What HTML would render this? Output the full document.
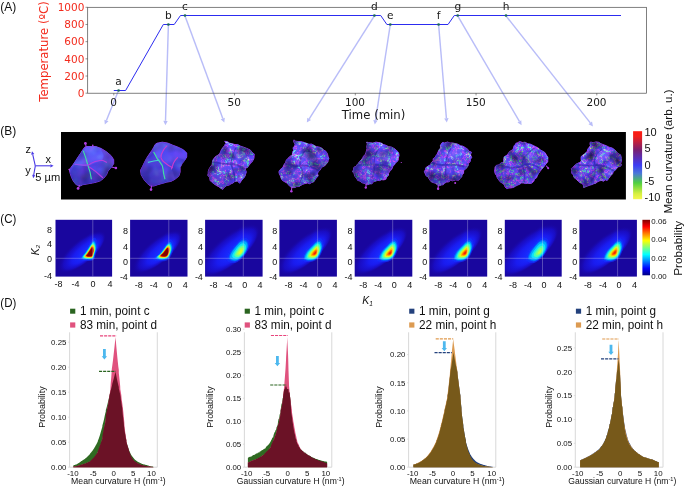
<!DOCTYPE html><html><head><meta charset="utf-8"><title>Figure</title>
<style>html,body{margin:0;padding:0;background:#fff;overflow:hidden}svg{display:block;will-change:transform}</style></head><body>
<svg width="685" height="486" viewBox="0 0 685 486">
<rect width="685" height="486" fill="#fff"/>
<text x="0.30" y="11.30" font-family="'Liberation Sans', sans-serif" font-size="12" fill="#111" textLength="16.0" lengthAdjust="spacingAndGlyphs">(A)</text>
<line x1="118.6" y1="90.2" x2="106.4" y2="120.5" stroke="#b9bdf8" stroke-width="1.45"/>
<polygon points="104.8,124.6 104.4,119.7 108.5,121.3" fill="#b9bdf8"/>
<line x1="168.4" y1="24.5" x2="165.5" y2="120.8" stroke="#b9bdf8" stroke-width="1.45"/>
<polygon points="165.4,125.2 163.3,120.7 167.7,120.9" fill="#b9bdf8"/>
<line x1="185.0" y1="15.9" x2="222.8" y2="118.5" stroke="#b9bdf8" stroke-width="1.45"/>
<polygon points="224.3,122.6 220.7,119.2 224.8,117.7" fill="#b9bdf8"/>
<line x1="374.4" y1="15.9" x2="309.2" y2="118.9" stroke="#b9bdf8" stroke-width="1.45"/>
<polygon points="306.8,122.6 307.3,117.7 311.0,120.1" fill="#b9bdf8"/>
<line x1="390.3" y1="24.5" x2="375.5" y2="120.3" stroke="#b9bdf8" stroke-width="1.45"/>
<polygon points="374.8,124.6 373.3,119.9 377.6,120.6" fill="#b9bdf8"/>
<line x1="438.6" y1="24.5" x2="446.4" y2="118.2" stroke="#b9bdf8" stroke-width="1.45"/>
<polygon points="446.8,122.6 444.2,118.4 448.6,118.0" fill="#b9bdf8"/>
<line x1="457.7" y1="15.9" x2="519.4" y2="121.4" stroke="#b9bdf8" stroke-width="1.45"/>
<polygon points="521.6,125.2 517.5,122.5 521.3,120.3" fill="#b9bdf8"/>
<line x1="506.0" y1="15.9" x2="590.3" y2="122.9" stroke="#b9bdf8" stroke-width="1.45"/>
<polygon points="593.0,126.4 588.5,124.3 592.0,121.6" fill="#b9bdf8"/>
<rect x="87.7" y="7.3" width="558.7" height="85.9" fill="none" stroke="#4a4a4a" stroke-width="0.7"/>
<line x1="85.5" y1="93.20" x2="87.7" y2="93.20" stroke="#4a4a4a" stroke-width="0.6"/>
<text x="84.40" y="97.00" font-family="'DejaVu Sans', 'Liberation Sans', sans-serif" font-size="10.5" fill="#f32a1c" text-anchor="end">0</text>
<line x1="85.5" y1="76.02" x2="87.7" y2="76.02" stroke="#4a4a4a" stroke-width="0.6"/>
<text x="84.40" y="79.82" font-family="'DejaVu Sans', 'Liberation Sans', sans-serif" font-size="10.5" fill="#f32a1c" text-anchor="end">200</text>
<line x1="85.5" y1="58.84" x2="87.7" y2="58.84" stroke="#4a4a4a" stroke-width="0.6"/>
<text x="84.40" y="62.64" font-family="'DejaVu Sans', 'Liberation Sans', sans-serif" font-size="10.5" fill="#f32a1c" text-anchor="end">400</text>
<line x1="85.5" y1="41.66" x2="87.7" y2="41.66" stroke="#4a4a4a" stroke-width="0.6"/>
<text x="84.40" y="45.46" font-family="'DejaVu Sans', 'Liberation Sans', sans-serif" font-size="10.5" fill="#f32a1c" text-anchor="end">600</text>
<line x1="85.5" y1="24.48" x2="87.7" y2="24.48" stroke="#4a4a4a" stroke-width="0.6"/>
<text x="84.40" y="28.28" font-family="'DejaVu Sans', 'Liberation Sans', sans-serif" font-size="10.5" fill="#f32a1c" text-anchor="end">800</text>
<line x1="85.5" y1="7.30" x2="87.7" y2="7.30" stroke="#4a4a4a" stroke-width="0.6"/>
<text x="84.40" y="11.10" font-family="'DejaVu Sans', 'Liberation Sans', sans-serif" font-size="10.5" fill="#f32a1c" text-anchor="end">1000</text>
<line x1="113.80" y1="93.2" x2="113.80" y2="95.4" stroke="#4a4a4a" stroke-width="0.6"/>
<text x="113.50" y="105.80" font-family="'DejaVu Sans', 'Liberation Sans', sans-serif" font-size="10.5" fill="#1a1a1a" text-anchor="middle">0</text>
<line x1="234.55" y1="93.2" x2="234.55" y2="95.4" stroke="#4a4a4a" stroke-width="0.6"/>
<text x="234.25" y="105.80" font-family="'DejaVu Sans', 'Liberation Sans', sans-serif" font-size="10.5" fill="#1a1a1a" text-anchor="middle">50</text>
<line x1="355.30" y1="93.2" x2="355.30" y2="95.4" stroke="#4a4a4a" stroke-width="0.6"/>
<text x="355.00" y="105.80" font-family="'DejaVu Sans', 'Liberation Sans', sans-serif" font-size="10.5" fill="#1a1a1a" text-anchor="middle">100</text>
<line x1="476.05" y1="93.2" x2="476.05" y2="95.4" stroke="#4a4a4a" stroke-width="0.6"/>
<text x="475.75" y="105.80" font-family="'DejaVu Sans', 'Liberation Sans', sans-serif" font-size="10.5" fill="#1a1a1a" text-anchor="middle">150</text>
<line x1="596.80" y1="93.2" x2="596.80" y2="95.4" stroke="#4a4a4a" stroke-width="0.6"/>
<text x="596.50" y="105.80" font-family="'DejaVu Sans', 'Liberation Sans', sans-serif" font-size="10.5" fill="#1a1a1a" text-anchor="middle">200</text>
<text x="47.70" y="51.50" font-family="'DejaVu Sans', 'Liberation Sans', sans-serif" font-size="11.7" fill="#f32a1c" text-anchor="middle" textLength="100.5" lengthAdjust="spacingAndGlyphs" transform="rotate(-90 47.70 51.50)">Temperature (ºC)</text>
<text x="373.60" y="118.60" font-family="'DejaVu Sans', 'Liberation Sans', sans-serif" font-size="11.7" fill="#1a1a1a" text-anchor="middle" textLength="63.5" lengthAdjust="spacingAndGlyphs">Time (min)</text>
<polyline fill="none" stroke="#2c2cf0" stroke-width="1" stroke-linejoin="round" points="113.8,90.5 125.6,90.5 163.3,24.5 174.2,24.5 180.5,15.5 380.7,15.5 386.9,24.5 448.0,24.5 454.3,15.5 621.0,15.5"/>
<circle cx="118.6" cy="90.5" r="1.35" fill="#1d6a5a"/>
<text x="118.40" y="85.20" font-family="'DejaVu Sans', 'Liberation Sans', sans-serif" font-size="10.6" fill="#1a1a1a" text-anchor="middle">a</text>
<circle cx="168.4" cy="24.5" r="1.35" fill="#1d6a5a"/>
<text x="168.30" y="18.90" font-family="'DejaVu Sans', 'Liberation Sans', sans-serif" font-size="10.6" fill="#1a1a1a" text-anchor="middle">b</text>
<circle cx="185.0" cy="15.5" r="1.35" fill="#1d6a5a"/>
<text x="185.00" y="10.20" font-family="'DejaVu Sans', 'Liberation Sans', sans-serif" font-size="10.6" fill="#1a1a1a" text-anchor="middle">c</text>
<circle cx="374.4" cy="15.5" r="1.35" fill="#1d6a5a"/>
<text x="374.40" y="10.20" font-family="'DejaVu Sans', 'Liberation Sans', sans-serif" font-size="10.6" fill="#1a1a1a" text-anchor="middle">d</text>
<circle cx="390.3" cy="24.5" r="1.35" fill="#1d6a5a"/>
<text x="390.20" y="18.90" font-family="'DejaVu Sans', 'Liberation Sans', sans-serif" font-size="10.6" fill="#1a1a1a" text-anchor="middle">e</text>
<circle cx="438.6" cy="24.5" r="1.35" fill="#1d6a5a"/>
<text x="438.50" y="18.90" font-family="'DejaVu Sans', 'Liberation Sans', sans-serif" font-size="10.6" fill="#1a1a1a" text-anchor="middle">f</text>
<circle cx="457.7" cy="15.5" r="1.35" fill="#1d6a5a"/>
<text x="457.80" y="10.20" font-family="'DejaVu Sans', 'Liberation Sans', sans-serif" font-size="10.6" fill="#1a1a1a" text-anchor="middle">g</text>
<circle cx="506.0" cy="15.5" r="1.35" fill="#1d6a5a"/>
<text x="506.00" y="10.20" font-family="'DejaVu Sans', 'Liberation Sans', sans-serif" font-size="10.6" fill="#1a1a1a" text-anchor="middle">h</text>
<text x="0.30" y="134.80" font-family="'Liberation Sans', sans-serif" font-size="12" fill="#111" textLength="16.0" lengthAdjust="spacingAndGlyphs">(B)</text>
<rect x="61.0" y="132.0" width="564.9" height="67.5" fill="#000"/>
<line x1="35.3" y1="165.8" x2="32.7" y2="154.3" stroke="#4a3ae6" stroke-width="1.1"/>
<polygon points="32.0,151.2 34.3,154.0 31.1,154.7" fill="#4a3ae6"/>
<line x1="35.3" y1="165.8" x2="50.4" y2="165.8" stroke="#4a3ae6" stroke-width="1.1"/>
<polygon points="53.6,165.8 50.4,167.4 50.4,164.2" fill="#4a3ae6"/>
<line x1="35.3" y1="165.8" x2="33.7" y2="175.0" stroke="#4a3ae6" stroke-width="1.1"/>
<polygon points="33.2,178.2 32.2,174.8 35.3,175.3" fill="#4a3ae6"/>
<text x="28.30" y="153.00" font-family="'Liberation Sans', sans-serif" font-size="11" fill="#111" text-anchor="middle">z</text>
<text x="48.30" y="162.60" font-family="'Liberation Sans', sans-serif" font-size="11" fill="#111" text-anchor="middle">x</text>
<text x="28.00" y="174.20" font-family="'Liberation Sans', sans-serif" font-size="11" fill="#111" text-anchor="middle">y</text>
<text x="35.20" y="180.60" font-family="'Liberation Sans', sans-serif" font-size="11.5" fill="#111" textLength="25.0" lengthAdjust="spacingAndGlyphs">5 µm</text>
<defs>
<filter id="texS" x="0" y="0" width="1" height="1" color-interpolation-filters="sRGB"><feTurbulence type="fractalNoise" baseFrequency="0.10" numOctaves="2" seed="5"/><feColorMatrix type="matrix" values="1 0 0 0 0  0 1 0 0 0  0 0 1 0 0  0 0 0 0 1"/><feComponentTransfer result="c1"><feFuncR type="table" tableValues="0.24 0.28 0.34 0.5 0.62"/><feFuncG type="table" tableValues="0.2 0.24 0.29 0.42 0.6"/><feFuncB type="table" tableValues="0.72 0.84 0.95 0.97 0.98"/></feComponentTransfer><feTurbulence type="fractalNoise" baseFrequency="0.06" numOctaves="2" seed="2"/><feColorMatrix type="matrix" values="1.6 0 0 0 -0.05  1.6 0 0 0 -0.05  1.6 0 0 0 -0.05  0 0 0 0 1" result="l1"/><feComposite in="c1" in2="l1" operator="arithmetic" k1="1" k2="0.22" k3="0" k4="0"/><feComposite in2="SourceGraphic" operator="in"/></filter>
<filter id="texR" x="0" y="0" width="1" height="1" color-interpolation-filters="sRGB"><feTurbulence type="fractalNoise" baseFrequency="0.24" numOctaves="2" seed="11"/><feColorMatrix type="matrix" values="1 0 0 0 0  0 1 0 0 0  0 0 1 0 0  0 0 0 0 1"/><feComponentTransfer><feFuncR type="table" tableValues="0.26 0.26 0.26 0.28 0.30 0.32 0.33 0.34 0.35 0.36 0.38 0.50 0.74 0.54 0.42 0.43 0.45 0.45 0.45 0.45 0.45"/><feFuncG type="table" tableValues="0.18 0.18 0.18 0.2 0.22 0.24 0.25 0.26 0.27 0.28 0.29 0.31 0.46 0.82 0.48 0.33 0.32 0.32 0.32 0.32 0.32"/><feFuncB type="table" tableValues="0.55 0.55 0.55 0.62 0.72 0.8 0.86 0.9 0.93 0.95 0.96 0.96 0.96 0.96 0.96 0.96 0.96 0.96 0.96 0.96 0.96"/></feComponentTransfer><feColorMatrix type="matrix" values="1 0 0 0 0  0 1 0 0 0  0 -0.35 1 0 0.105  0 0 0 0 1" result="c1"/><feTurbulence type="fractalNoise" baseFrequency="0.075" numOctaves="2" seed="3"/><feColorMatrix type="matrix" values="1.8 0 0 0 -0.15  1.8 0 0 0 -0.15  1.8 0 0 0 -0.15  0 0 0 0 1" result="l1"/><feComposite in="c1" in2="l1" operator="arithmetic" k1="1" k2="0.22" k3="0" k4="0"/><feComposite in2="SourceGraphic" operator="in"/></filter>
<filter id="texR2" x="0" y="0" width="1" height="1" color-interpolation-filters="sRGB"><feTurbulence type="fractalNoise" baseFrequency="0.30" numOctaves="2" seed="23"/><feColorMatrix type="matrix" values="1 0 0 0 0  0 1 0 0 0  0 0 1 0 0  0 0 0 0 1"/><feComponentTransfer><feFuncR type="table" tableValues="0.26 0.26 0.26 0.28 0.30 0.32 0.33 0.34 0.35 0.36 0.38 0.50 0.74 0.54 0.42 0.43 0.45 0.45 0.45 0.45 0.45"/><feFuncG type="table" tableValues="0.18 0.18 0.18 0.2 0.22 0.24 0.25 0.26 0.27 0.28 0.29 0.31 0.46 0.82 0.48 0.33 0.32 0.32 0.32 0.32 0.32"/><feFuncB type="table" tableValues="0.55 0.55 0.55 0.62 0.72 0.8 0.86 0.9 0.93 0.95 0.96 0.96 0.96 0.96 0.96 0.96 0.96 0.96 0.96 0.96 0.96"/></feComponentTransfer><feColorMatrix type="matrix" values="1 0 0 0 0  0 1 0 0 0  0 -0.7 1 0 0.210  0 0 0 0 1" result="c1"/><feTurbulence type="fractalNoise" baseFrequency="0.085" numOctaves="2" seed="8"/><feColorMatrix type="matrix" values="1.8 0 0 0 -0.15  1.8 0 0 0 -0.15  1.8 0 0 0 -0.15  0 0 0 0 1" result="l1"/><feComposite in="c1" in2="l1" operator="arithmetic" k1="1" k2="0.22" k3="0" k4="0"/><feComposite in2="SourceGraphic" operator="in"/></filter>
</defs>
<defs><filter id="blurv" x="-0.2" y="-0.2" width="1.4" height="1.4"><feGaussianBlur stdDeviation="0.7"/></filter><linearGradient id="shade" x1="0.75" y1="0.1" x2="0.3" y2="1"><stop offset="0" stop-color="#0a0040" stop-opacity="0"/><stop offset="0.55" stop-color="#0a0040" stop-opacity="0.05"/><stop offset="1" stop-color="#0a0040" stop-opacity="0.26"/></linearGradient>
<clipPath id="pc0"><polygon points="86.7,146.5 91.3,146.5 95.9,146.5 101.2,148.5 106.5,151.8 111.1,155.7 113.7,159.7 113.7,163.6 111.7,166.9 109.7,168.9 107.8,171.5 106.5,174.8 103.8,178.1 100.5,180.7 96.6,182.1 92.6,183.0 88.0,183.8 82.8,184.7 80.1,186.0 76.2,184.7 73.5,181.4 71.6,177.5 70.2,173.5 69.3,169.6 70.9,167.6 72.9,164.9 75.5,161.0 78.1,157.0 80.8,153.1 82.8,149.8 84.7,147.2"/></clipPath>
<clipPath id="pc1"><polygon points="157.0,143.2 162.3,142.2 167.6,143.0 172.8,145.2 178.1,147.2 183.4,149.8 186.7,153.1 186.7,157.0 184.7,160.3 182.1,163.6 180.1,167.6 180.1,172.2 178.8,176.1 174.8,179.4 170.9,181.4 166.9,182.1 162.3,183.4 157.7,184.7 153.8,186.0 150.5,186.0 147.2,183.4 143.9,179.4 141.2,174.8 140.6,170.2 142.6,166.3 144.5,162.3 146.5,158.4 149.1,154.4 151.8,150.5 153.8,147.2 155.1,144.5"/></clipPath>
<clipPath id="pc2"><polygon points="224.7,141.3 227.5,141.7 229.8,143.3 232.3,143.7 235.0,144.6 237.7,144.5 240.2,146.0 242.8,146.9 245.8,148.0 248.1,149.0 250.4,150.1 252.0,152.5 254.2,153.9 254.1,156.1 254.0,158.1 253.0,160.3 251.7,162.4 250.2,163.8 248.9,165.4 247.5,167.4 245.2,168.4 245.7,170.2 246.3,172.1 245.6,174.2 245.2,175.8 243.8,178.0 242.2,179.5 240.9,181.5 239.6,183.3 238.4,181.9 237.3,181.0 234.8,181.5 232.9,183.1 231.0,183.8 229.1,185.1 226.9,185.4 224.9,186.9 223.6,187.9 222.8,189.4 220.4,188.0 218.9,186.7 216.4,185.5 214.9,184.4 212.1,182.4 210.1,180.4 209.7,177.5 207.8,175.3 208.2,173.5 208.3,171.2 208.8,169.5 210.1,167.3 211.1,165.9 212.2,164.3 212.4,162.2 212.8,160.2 214.1,158.3 215.4,156.7 217.7,155.3 219.6,154.0 220.6,151.7 221.5,149.5 222.8,147.7 224.6,145.6 225.0,144.5 226.0,143.5 225.3,142.2"/></clipPath>
<clipPath id="pc3"><polygon points="293.9,139.9 295.6,141.2 298.2,141.6 300.7,141.6 303.4,142.2 306.0,143.1 309.0,144.3 311.3,144.0 313.4,144.9 316.3,146.7 318.6,146.9 321.7,148.0 323.3,149.8 326.0,151.4 327.5,154.0 328.0,156.2 328.9,158.7 328.2,160.3 327.9,162.1 326.2,164.1 324.5,166.0 322.6,166.8 321.1,168.0 320.0,170.1 318.1,172.0 317.5,173.7 318.2,176.1 316.2,177.9 314.9,180.1 313.8,181.8 311.7,182.5 309.6,183.7 307.6,183.0 304.8,183.6 302.8,184.3 300.7,185.4 299.2,186.5 296.7,186.6 295.0,187.5 293.0,187.6 291.4,187.4 289.6,186.1 288.4,184.6 286.4,182.7 283.8,181.3 282.0,179.9 281.0,177.9 280.0,175.1 279.0,172.9 279.1,171.0 280.1,169.7 282.0,168.1 283.4,166.3 284.3,164.2 285.6,162.5 286.3,160.2 287.7,158.7 289.2,157.1 291.3,155.5 292.4,154.4 292.5,152.3 293.6,150.2 293.0,147.9 294.6,146.0 295.1,144.1 293.8,142.0"/></clipPath>
<clipPath id="pc4"><polygon points="366.8,142.0 368.3,142.7 370.1,142.8 373.0,143.1 375.9,142.1 378.3,142.5 381.3,143.1 383.5,144.6 386.0,145.3 388.6,146.7 391.5,147.1 393.8,148.3 396.1,149.9 397.5,151.4 398.7,153.1 399.1,155.4 398.4,157.8 398.3,160.0 396.8,162.0 395.3,163.0 394.5,164.8 392.9,166.1 392.0,168.7 391.2,170.1 389.8,171.1 388.5,173.4 388.4,175.5 386.6,177.0 385.9,179.3 383.7,179.9 381.6,179.7 379.6,180.6 377.3,180.4 375.6,181.2 373.3,181.8 372.0,183.8 370.0,183.8 367.8,184.7 365.9,184.2 363.9,183.2 361.8,182.7 360.0,181.1 357.7,180.4 356.5,177.9 354.9,176.5 354.1,173.6 352.6,171.5 353.6,169.7 354.0,167.1 356.0,166.8 356.9,164.9 358.4,163.3 359.4,161.8 361.3,159.8 362.8,157.8 363.6,155.9 365.2,154.8 366.0,152.5 366.7,150.0 367.0,148.6 366.8,146.2 367.1,145.1 367.4,143.5 366.6,143.0"/></clipPath>
<clipPath id="pc5"><polygon points="442.4,142.5 444.7,142.9 447.7,142.0 449.9,143.1 452.4,142.9 455.3,143.6 458.0,144.2 460.4,145.7 463.0,146.2 465.5,147.7 467.6,149.1 468.9,151.2 471.4,152.1 470.5,154.8 471.7,157.4 470.5,159.2 470.3,161.5 468.4,163.3 468.2,165.7 466.9,167.6 465.4,169.2 463.6,170.6 463.6,173.3 462.1,174.7 461.7,176.8 460.1,178.4 458.7,180.2 455.5,179.9 452.6,180.8 450.5,180.3 448.9,181.8 446.5,182.1 444.3,183.3 443.2,184.7 441.2,185.0 439.3,185.7 437.4,185.0 435.7,183.2 433.9,182.8 431.0,181.6 429.2,179.0 428.3,177.1 426.0,175.7 425.1,173.5 424.3,171.8 425.4,169.7 425.8,167.7 428.1,166.1 430.7,164.7 431.2,162.7 433.2,160.9 433.2,158.7 435.1,157.4 436.1,155.4 437.1,154.2 438.2,151.7 439.2,149.4 440.6,148.0 440.4,145.5 441.1,144.2"/></clipPath>
<clipPath id="pc6"><polygon points="517.2,143.0 519.6,141.6 522.7,142.5 525.1,142.2 527.8,143.8 530.3,144.1 533.3,145.5 535.5,146.6 538.2,148.0 540.2,149.8 542.5,151.1 545.1,152.7 546.4,155.1 547.9,157.2 547.8,160.0 547.7,161.8 546.5,163.2 544.6,165.7 542.9,167.9 541.4,169.6 539.9,171.6 538.6,173.4 537.4,175.4 536.6,177.8 534.5,179.1 533.8,181.3 531.9,183.1 530.2,183.5 527.8,183.2 525.8,183.6 523.9,183.1 521.5,182.9 520.0,184.0 517.7,185.1 515.6,186.1 513.6,187.4 511.1,187.9 508.8,188.0 506.9,188.8 505.0,186.9 504.6,184.9 502.5,183.3 500.1,181.7 498.9,180.1 497.4,178.1 496.6,175.7 495.3,173.8 494.5,171.3 494.9,169.1 495.1,166.9 496.3,165.4 498.8,165.0 500.6,163.2 502.4,162.6 503.6,161.3 503.8,158.9 504.1,156.8 506.1,155.7 507.7,154.4 509.0,152.3 510.9,150.7 513.0,149.6 513.7,147.0 514.3,145.5 515.8,144.0 515.9,143.2"/></clipPath>
<clipPath id="pc7"><polygon points="590.5,142.0 593.3,142.7 596.1,141.9 598.6,142.3 600.9,143.7 603.7,144.8 606.3,145.7 609.0,147.2 612.1,148.0 614.2,149.4 616.1,151.2 617.9,153.6 620.5,154.8 621.1,157.0 621.2,158.7 621.3,161.3 620.7,163.4 621.4,164.6 620.9,165.9 619.5,166.6 617.8,166.8 616.6,168.8 614.8,170.5 613.3,171.5 612.6,173.9 611.1,175.0 610.2,176.5 608.7,178.4 607.2,180.4 605.1,179.8 603.5,181.2 601.2,180.4 599.4,181.0 597.6,181.7 596.2,183.1 593.9,183.7 591.8,184.6 589.7,185.2 587.5,186.0 585.5,186.8 583.6,187.5 583.4,185.4 582.5,183.5 580.1,182.8 578.4,181.4 576.3,179.3 574.0,177.4 573.4,174.9 571.8,173.2 571.9,170.4 571.3,168.6 572.7,167.4 574.0,166.0 575.5,164.5 577.4,163.5 579.4,162.6 581.3,161.2 581.0,159.0 581.1,156.6 582.7,155.2 584.5,153.9 586.0,152.6 587.2,151.5 587.9,148.9 589.0,147.6 590.4,145.7 590.0,143.9 590.1,142.8"/></clipPath>
</defs>
<polygon points="86.7,146.5 91.3,146.5 95.9,146.5 101.2,148.5 106.5,151.8 111.1,155.7 113.7,159.7 113.7,163.6 111.7,166.9 109.7,168.9 107.8,171.5 106.5,174.8 103.8,178.1 100.5,180.7 96.6,182.1 92.6,183.0 88.0,183.8 82.8,184.7 80.1,186.0 76.2,184.7 73.5,181.4 71.6,177.5 70.2,173.5 69.3,169.6 70.9,167.6 72.9,164.9 75.5,161.0 78.1,157.0 80.8,153.1 82.8,149.8 84.7,147.2" fill="#5244e8" stroke="#9038e0" stroke-width="1.0" stroke-linejoin="round"/>
<g clip-path="url(#pc0)">
<polygon points="88.7,166.3 83.4,151.1 86.7,146.5 95.9,146.5 101.2,148.5 104.0,156.0 102.5,160.3" fill="#6668fb" stroke="#6668fb" stroke-width="0.6"/>
<polygon points="101.2,148.5 106.5,151.8 111.1,155.7 113.7,159.7 113.7,163.6 111.7,166.9 106.5,162.3 102.5,160.3 104.0,156.0" fill="#6c3ccc" stroke="#6c3ccc" stroke-width="0.6"/>
<polygon points="88.7,166.3 102.5,160.3 106.5,162.3 111.7,166.9 107.8,171.5 106.5,174.8 102.5,177.5" fill="#524aec" stroke="#524aec" stroke-width="0.6"/>
<polygon points="88.7,166.3 102.5,177.5 100.5,180.7 92.6,183.0 91.3,178.8" fill="#3a30b8" stroke="#3a30b8" stroke-width="0.6"/>
<polygon points="88.7,166.3 91.3,178.8 92.6,183.0 82.8,184.7 76.2,184.7 71.6,177.5 70.2,173.5 74.9,164.3" fill="#3d34c4" stroke="#3d34c4" stroke-width="0.6"/>
<polygon points="88.7,166.3 74.9,164.3 72.9,164.9 78.1,157.0 82.8,149.8 83.4,151.1" fill="#5c56f2" stroke="#5c56f2" stroke-width="0.6"/>
</g>
<polygon points="86.7,146.5 91.3,146.5 95.9,146.5 101.2,148.5 106.5,151.8 111.1,155.7 113.7,159.7 113.7,163.6 111.7,166.9 109.7,168.9 107.8,171.5 106.5,174.8 103.8,178.1 100.5,180.7 96.6,182.1 92.6,183.0 88.0,183.8 82.8,184.7 80.1,186.0 76.2,184.7 73.5,181.4 71.6,177.5 70.2,173.5 69.3,169.6 70.9,167.6 72.9,164.9 75.5,161.0 78.1,157.0 80.8,153.1 82.8,149.8 84.7,147.2" fill="#4a3ce0" filter="url(#texS)" opacity="0.5"/>
<polygon points="86.7,146.5 91.3,146.5 95.9,146.5 101.2,148.5 106.5,151.8 111.1,155.7 113.7,159.7 113.7,163.6 111.7,166.9 109.7,168.9 107.8,171.5 106.5,174.8 103.8,178.1 100.5,180.7 96.6,182.1 92.6,183.0 88.0,183.8 82.8,184.7 80.1,186.0 76.2,184.7 73.5,181.4 71.6,177.5 70.2,173.5 69.3,169.6 70.9,167.6 72.9,164.9 75.5,161.0 78.1,157.0 80.8,153.1 82.8,149.8 84.7,147.2" fill="url(#shade)"/>
<polygon points="157.0,143.2 162.3,142.2 167.6,143.0 172.8,145.2 178.1,147.2 183.4,149.8 186.7,153.1 186.7,157.0 184.7,160.3 182.1,163.6 180.1,167.6 180.1,172.2 178.8,176.1 174.8,179.4 170.9,181.4 166.9,182.1 162.3,183.4 157.7,184.7 153.8,186.0 150.5,186.0 147.2,183.4 143.9,179.4 141.2,174.8 140.6,170.2 142.6,166.3 144.5,162.3 146.5,158.4 149.1,154.4 151.8,150.5 153.8,147.2 155.1,144.5" fill="#5244e8" stroke="#9038e0" stroke-width="1.0" stroke-linejoin="round"/>
<g clip-path="url(#pc1)">
<polygon points="157.0,143.2 162.3,142.2 166.9,145.9 162.3,152.4 161.0,157.7 157.0,158.4 153.8,152.4 153.8,147.2" fill="#6866fa" stroke="#6866fa" stroke-width="0.6"/>
<polygon points="166.9,145.9 167.6,143.0 178.1,147.2 183.4,149.8 186.7,153.1 186.7,157.0 184.7,160.3 177.5,157.7 173.5,163.0 172.2,167.6 164.3,162.3 161.0,157.7 162.3,152.4" fill="#5c4cee" stroke="#5c4cee" stroke-width="0.6"/>
<polygon points="177.5,157.7 184.7,160.3 180.1,167.6 180.1,172.2 178.8,176.1 174.8,179.4 171.5,168.9 173.5,163.0" fill="#4236c8" stroke="#4236c8" stroke-width="0.6"/>
<polygon points="161.0,157.7 164.3,162.3 172.2,167.6 171.5,168.9 174.8,179.4 166.9,182.1 164.9,178.8 163.6,173.5 162.3,165.6 157.0,158.4" fill="#524ae8" stroke="#524ae8" stroke-width="0.6"/>
<polygon points="153.8,152.4 157.0,158.4 162.3,165.6 164.9,178.8 166.9,182.1 153.8,186.0 147.2,183.4 141.2,174.8 140.6,170.2 146.5,158.4" fill="#3c34c2" stroke="#3c34c2" stroke-width="0.6"/>
</g>
<polygon points="157.0,143.2 162.3,142.2 167.6,143.0 172.8,145.2 178.1,147.2 183.4,149.8 186.7,153.1 186.7,157.0 184.7,160.3 182.1,163.6 180.1,167.6 180.1,172.2 178.8,176.1 174.8,179.4 170.9,181.4 166.9,182.1 162.3,183.4 157.7,184.7 153.8,186.0 150.5,186.0 147.2,183.4 143.9,179.4 141.2,174.8 140.6,170.2 142.6,166.3 144.5,162.3 146.5,158.4 149.1,154.4 151.8,150.5 153.8,147.2 155.1,144.5" fill="#4a3ce0" filter="url(#texS)" opacity="0.5"/>
<polygon points="157.0,143.2 162.3,142.2 167.6,143.0 172.8,145.2 178.1,147.2 183.4,149.8 186.7,153.1 186.7,157.0 184.7,160.3 182.1,163.6 180.1,167.6 180.1,172.2 178.8,176.1 174.8,179.4 170.9,181.4 166.9,182.1 162.3,183.4 157.7,184.7 153.8,186.0 150.5,186.0 147.2,183.4 143.9,179.4 141.2,174.8 140.6,170.2 142.6,166.3 144.5,162.3 146.5,158.4 149.1,154.4 151.8,150.5 153.8,147.2 155.1,144.5" fill="url(#shade)"/>
<polygon points="224.7,141.3 227.5,141.7 229.8,143.3 232.3,143.7 235.0,144.6 237.7,144.5 240.2,146.0 242.8,146.9 245.8,148.0 248.1,149.0 250.4,150.1 252.0,152.5 254.2,153.9 254.1,156.1 254.0,158.1 253.0,160.3 251.7,162.4 250.2,163.8 248.9,165.4 247.5,167.4 245.2,168.4 245.7,170.2 246.3,172.1 245.6,174.2 245.2,175.8 243.8,178.0 242.2,179.5 240.9,181.5 239.6,183.3 238.4,181.9 237.3,181.0 234.8,181.5 232.9,183.1 231.0,183.8 229.1,185.1 226.9,185.4 224.9,186.9 223.6,187.9 222.8,189.4 220.4,188.0 218.9,186.7 216.4,185.5 214.9,184.4 212.1,182.4 210.1,180.4 209.7,177.5 207.8,175.3 208.2,173.5 208.3,171.2 208.8,169.5 210.1,167.3 211.1,165.9 212.2,164.3 212.4,162.2 212.8,160.2 214.1,158.3 215.4,156.7 217.7,155.3 219.6,154.0 220.6,151.7 221.5,149.5 222.8,147.7 224.6,145.6 225.0,144.5 226.0,143.5 225.3,142.2" fill="#5244e8" stroke="#9038e0" stroke-width="1.0" stroke-linejoin="round"/>
<polygon points="224.7,141.3 227.5,141.7 229.8,143.3 232.3,143.7 235.0,144.6 237.7,144.5 240.2,146.0 242.8,146.9 245.8,148.0 248.1,149.0 250.4,150.1 252.0,152.5 254.2,153.9 254.1,156.1 254.0,158.1 253.0,160.3 251.7,162.4 250.2,163.8 248.9,165.4 247.5,167.4 245.2,168.4 245.7,170.2 246.3,172.1 245.6,174.2 245.2,175.8 243.8,178.0 242.2,179.5 240.9,181.5 239.6,183.3 238.4,181.9 237.3,181.0 234.8,181.5 232.9,183.1 231.0,183.8 229.1,185.1 226.9,185.4 224.9,186.9 223.6,187.9 222.8,189.4 220.4,188.0 218.9,186.7 216.4,185.5 214.9,184.4 212.1,182.4 210.1,180.4 209.7,177.5 207.8,175.3 208.2,173.5 208.3,171.2 208.8,169.5 210.1,167.3 211.1,165.9 212.2,164.3 212.4,162.2 212.8,160.2 214.1,158.3 215.4,156.7 217.7,155.3 219.6,154.0 220.6,151.7 221.5,149.5 222.8,147.7 224.6,145.6 225.0,144.5 226.0,143.5 225.3,142.2" fill="#4a3ce0" filter="url(#texR)" opacity="0.92"/>
<polygon points="224.7,141.3 227.5,141.7 229.8,143.3 232.3,143.7 235.0,144.6 237.7,144.5 240.2,146.0 242.8,146.9 245.8,148.0 248.1,149.0 250.4,150.1 252.0,152.5 254.2,153.9 254.1,156.1 254.0,158.1 253.0,160.3 251.7,162.4 250.2,163.8 248.9,165.4 247.5,167.4 245.2,168.4 245.7,170.2 246.3,172.1 245.6,174.2 245.2,175.8 243.8,178.0 242.2,179.5 240.9,181.5 239.6,183.3 238.4,181.9 237.3,181.0 234.8,181.5 232.9,183.1 231.0,183.8 229.1,185.1 226.9,185.4 224.9,186.9 223.6,187.9 222.8,189.4 220.4,188.0 218.9,186.7 216.4,185.5 214.9,184.4 212.1,182.4 210.1,180.4 209.7,177.5 207.8,175.3 208.2,173.5 208.3,171.2 208.8,169.5 210.1,167.3 211.1,165.9 212.2,164.3 212.4,162.2 212.8,160.2 214.1,158.3 215.4,156.7 217.7,155.3 219.6,154.0 220.6,151.7 221.5,149.5 222.8,147.7 224.6,145.6 225.0,144.5 226.0,143.5 225.3,142.2" fill="url(#shade)"/>
<g clip-path="url(#pc2)" fill="none" stroke="#241a96" stroke-linecap="round" filter="url(#blurv)" opacity="0.5">
<path d="M211.8 161.6Q222.8 164.3 230.8 164.0T246.2 170.9" stroke-width="1.8"/>
<path d="M230.8 164.0Q234.9 173.0 235.0 182.4" stroke-width="1.6"/>
<path d="M235.5 148.3Q232.2 156.0 230.8 164.0" stroke-width="1.2"/>
</g>
<ellipse cx="239.8" cy="155.0" rx="7" ry="4.5" fill="#7f7cff" opacity="0.28" transform="rotate(25 239.8 155.0)" clip-path="url(#pc2)"/>
<polygon points="293.9,139.9 295.6,141.2 298.2,141.6 300.7,141.6 303.4,142.2 306.0,143.1 309.0,144.3 311.3,144.0 313.4,144.9 316.3,146.7 318.6,146.9 321.7,148.0 323.3,149.8 326.0,151.4 327.5,154.0 328.0,156.2 328.9,158.7 328.2,160.3 327.9,162.1 326.2,164.1 324.5,166.0 322.6,166.8 321.1,168.0 320.0,170.1 318.1,172.0 317.5,173.7 318.2,176.1 316.2,177.9 314.9,180.1 313.8,181.8 311.7,182.5 309.6,183.7 307.6,183.0 304.8,183.6 302.8,184.3 300.7,185.4 299.2,186.5 296.7,186.6 295.0,187.5 293.0,187.6 291.4,187.4 289.6,186.1 288.4,184.6 286.4,182.7 283.8,181.3 282.0,179.9 281.0,177.9 280.0,175.1 279.0,172.9 279.1,171.0 280.1,169.7 282.0,168.1 283.4,166.3 284.3,164.2 285.6,162.5 286.3,160.2 287.7,158.7 289.2,157.1 291.3,155.5 292.4,154.4 292.5,152.3 293.6,150.2 293.0,147.9 294.6,146.0 295.1,144.1 293.8,142.0" fill="#5244e8" stroke="#9038e0" stroke-width="1.0" stroke-linejoin="round"/>
<polygon points="293.9,139.9 295.6,141.2 298.2,141.6 300.7,141.6 303.4,142.2 306.0,143.1 309.0,144.3 311.3,144.0 313.4,144.9 316.3,146.7 318.6,146.9 321.7,148.0 323.3,149.8 326.0,151.4 327.5,154.0 328.0,156.2 328.9,158.7 328.2,160.3 327.9,162.1 326.2,164.1 324.5,166.0 322.6,166.8 321.1,168.0 320.0,170.1 318.1,172.0 317.5,173.7 318.2,176.1 316.2,177.9 314.9,180.1 313.8,181.8 311.7,182.5 309.6,183.7 307.6,183.0 304.8,183.6 302.8,184.3 300.7,185.4 299.2,186.5 296.7,186.6 295.0,187.5 293.0,187.6 291.4,187.4 289.6,186.1 288.4,184.6 286.4,182.7 283.8,181.3 282.0,179.9 281.0,177.9 280.0,175.1 279.0,172.9 279.1,171.0 280.1,169.7 282.0,168.1 283.4,166.3 284.3,164.2 285.6,162.5 286.3,160.2 287.7,158.7 289.2,157.1 291.3,155.5 292.4,154.4 292.5,152.3 293.6,150.2 293.0,147.9 294.6,146.0 295.1,144.1 293.8,142.0" fill="#4a3ce0" filter="url(#texR)" opacity="0.92"/>
<polygon points="293.9,139.9 295.6,141.2 298.2,141.6 300.7,141.6 303.4,142.2 306.0,143.1 309.0,144.3 311.3,144.0 313.4,144.9 316.3,146.7 318.6,146.9 321.7,148.0 323.3,149.8 326.0,151.4 327.5,154.0 328.0,156.2 328.9,158.7 328.2,160.3 327.9,162.1 326.2,164.1 324.5,166.0 322.6,166.8 321.1,168.0 320.0,170.1 318.1,172.0 317.5,173.7 318.2,176.1 316.2,177.9 314.9,180.1 313.8,181.8 311.7,182.5 309.6,183.7 307.6,183.0 304.8,183.6 302.8,184.3 300.7,185.4 299.2,186.5 296.7,186.6 295.0,187.5 293.0,187.6 291.4,187.4 289.6,186.1 288.4,184.6 286.4,182.7 283.8,181.3 282.0,179.9 281.0,177.9 280.0,175.1 279.0,172.9 279.1,171.0 280.1,169.7 282.0,168.1 283.4,166.3 284.3,164.2 285.6,162.5 286.3,160.2 287.7,158.7 289.2,157.1 291.3,155.5 292.4,154.4 292.5,152.3 293.6,150.2 293.0,147.9 294.6,146.0 295.1,144.1 293.8,142.0" fill="url(#shade)"/>
<g clip-path="url(#pc3)" fill="none" stroke="#241a96" stroke-linecap="round" filter="url(#blurv)" opacity="0.5">
<path d="M283.0 162.6Q292.2 167.5 300.2 165.7T320.9 172.1" stroke-width="1.8"/>
<path d="M300.2 165.7Q304.9 174.7 300.8 180.6" stroke-width="1.6"/>
<path d="M308.2 146.9Q298.3 157.7 300.2 165.7" stroke-width="1.2"/>
</g>
<ellipse cx="309.2" cy="156.7" rx="7" ry="4.5" fill="#7f7cff" opacity="0.28" transform="rotate(25 309.2 156.7)" clip-path="url(#pc3)"/>
<polygon points="366.8,142.0 368.3,142.7 370.1,142.8 373.0,143.1 375.9,142.1 378.3,142.5 381.3,143.1 383.5,144.6 386.0,145.3 388.6,146.7 391.5,147.1 393.8,148.3 396.1,149.9 397.5,151.4 398.7,153.1 399.1,155.4 398.4,157.8 398.3,160.0 396.8,162.0 395.3,163.0 394.5,164.8 392.9,166.1 392.0,168.7 391.2,170.1 389.8,171.1 388.5,173.4 388.4,175.5 386.6,177.0 385.9,179.3 383.7,179.9 381.6,179.7 379.6,180.6 377.3,180.4 375.6,181.2 373.3,181.8 372.0,183.8 370.0,183.8 367.8,184.7 365.9,184.2 363.9,183.2 361.8,182.7 360.0,181.1 357.7,180.4 356.5,177.9 354.9,176.5 354.1,173.6 352.6,171.5 353.6,169.7 354.0,167.1 356.0,166.8 356.9,164.9 358.4,163.3 359.4,161.8 361.3,159.8 362.8,157.8 363.6,155.9 365.2,154.8 366.0,152.5 366.7,150.0 367.0,148.6 366.8,146.2 367.1,145.1 367.4,143.5 366.6,143.0" fill="#5244e8" stroke="#9038e0" stroke-width="1.0" stroke-linejoin="round"/>
<polygon points="366.8,142.0 368.3,142.7 370.1,142.8 373.0,143.1 375.9,142.1 378.3,142.5 381.3,143.1 383.5,144.6 386.0,145.3 388.6,146.7 391.5,147.1 393.8,148.3 396.1,149.9 397.5,151.4 398.7,153.1 399.1,155.4 398.4,157.8 398.3,160.0 396.8,162.0 395.3,163.0 394.5,164.8 392.9,166.1 392.0,168.7 391.2,170.1 389.8,171.1 388.5,173.4 388.4,175.5 386.6,177.0 385.9,179.3 383.7,179.9 381.6,179.7 379.6,180.6 377.3,180.4 375.6,181.2 373.3,181.8 372.0,183.8 370.0,183.8 367.8,184.7 365.9,184.2 363.9,183.2 361.8,182.7 360.0,181.1 357.7,180.4 356.5,177.9 354.9,176.5 354.1,173.6 352.6,171.5 353.6,169.7 354.0,167.1 356.0,166.8 356.9,164.9 358.4,163.3 359.4,161.8 361.3,159.8 362.8,157.8 363.6,155.9 365.2,154.8 366.0,152.5 366.7,150.0 367.0,148.6 366.8,146.2 367.1,145.1 367.4,143.5 366.6,143.0" fill="#4a3ce0" filter="url(#texR)" opacity="0.92"/>
<polygon points="366.8,142.0 368.3,142.7 370.1,142.8 373.0,143.1 375.9,142.1 378.3,142.5 381.3,143.1 383.5,144.6 386.0,145.3 388.6,146.7 391.5,147.1 393.8,148.3 396.1,149.9 397.5,151.4 398.7,153.1 399.1,155.4 398.4,157.8 398.3,160.0 396.8,162.0 395.3,163.0 394.5,164.8 392.9,166.1 392.0,168.7 391.2,170.1 389.8,171.1 388.5,173.4 388.4,175.5 386.6,177.0 385.9,179.3 383.7,179.9 381.6,179.7 379.6,180.6 377.3,180.4 375.6,181.2 373.3,181.8 372.0,183.8 370.0,183.8 367.8,184.7 365.9,184.2 363.9,183.2 361.8,182.7 360.0,181.1 357.7,180.4 356.5,177.9 354.9,176.5 354.1,173.6 352.6,171.5 353.6,169.7 354.0,167.1 356.0,166.8 356.9,164.9 358.4,163.3 359.4,161.8 361.3,159.8 362.8,157.8 363.6,155.9 365.2,154.8 366.0,152.5 366.7,150.0 367.0,148.6 366.8,146.2 367.1,145.1 367.4,143.5 366.6,143.0" fill="url(#shade)"/>
<g clip-path="url(#pc4)" fill="none" stroke="#241a96" stroke-linecap="round" filter="url(#blurv)" opacity="0.5">
<path d="M356.6 165.7Q366.3 164.6 374.3 164.5T391.1 167.3" stroke-width="1.8"/>
<path d="M374.3 164.5Q374.5 173.5 372.2 177.7" stroke-width="1.6"/>
<path d="M378.4 149.0Q373.6 156.5 374.3 164.5" stroke-width="1.2"/>
</g>
<ellipse cx="383.3" cy="155.5" rx="7" ry="4.5" fill="#7f7cff" opacity="0.28" transform="rotate(25 383.3 155.5)" clip-path="url(#pc4)"/>
<polygon points="442.4,142.5 444.7,142.9 447.7,142.0 449.9,143.1 452.4,142.9 455.3,143.6 458.0,144.2 460.4,145.7 463.0,146.2 465.5,147.7 467.6,149.1 468.9,151.2 471.4,152.1 470.5,154.8 471.7,157.4 470.5,159.2 470.3,161.5 468.4,163.3 468.2,165.7 466.9,167.6 465.4,169.2 463.6,170.6 463.6,173.3 462.1,174.7 461.7,176.8 460.1,178.4 458.7,180.2 455.5,179.9 452.6,180.8 450.5,180.3 448.9,181.8 446.5,182.1 444.3,183.3 443.2,184.7 441.2,185.0 439.3,185.7 437.4,185.0 435.7,183.2 433.9,182.8 431.0,181.6 429.2,179.0 428.3,177.1 426.0,175.7 425.1,173.5 424.3,171.8 425.4,169.7 425.8,167.7 428.1,166.1 430.7,164.7 431.2,162.7 433.2,160.9 433.2,158.7 435.1,157.4 436.1,155.4 437.1,154.2 438.2,151.7 439.2,149.4 440.6,148.0 440.4,145.5 441.1,144.2" fill="#5244e8" stroke="#9038e0" stroke-width="1.0" stroke-linejoin="round"/>
<polygon points="442.4,142.5 444.7,142.9 447.7,142.0 449.9,143.1 452.4,142.9 455.3,143.6 458.0,144.2 460.4,145.7 463.0,146.2 465.5,147.7 467.6,149.1 468.9,151.2 471.4,152.1 470.5,154.8 471.7,157.4 470.5,159.2 470.3,161.5 468.4,163.3 468.2,165.7 466.9,167.6 465.4,169.2 463.6,170.6 463.6,173.3 462.1,174.7 461.7,176.8 460.1,178.4 458.7,180.2 455.5,179.9 452.6,180.8 450.5,180.3 448.9,181.8 446.5,182.1 444.3,183.3 443.2,184.7 441.2,185.0 439.3,185.7 437.4,185.0 435.7,183.2 433.9,182.8 431.0,181.6 429.2,179.0 428.3,177.1 426.0,175.7 425.1,173.5 424.3,171.8 425.4,169.7 425.8,167.7 428.1,166.1 430.7,164.7 431.2,162.7 433.2,160.9 433.2,158.7 435.1,157.4 436.1,155.4 437.1,154.2 438.2,151.7 439.2,149.4 440.6,148.0 440.4,145.5 441.1,144.2" fill="#4a3ce0" filter="url(#texR)" opacity="0.92"/>
<polygon points="442.4,142.5 444.7,142.9 447.7,142.0 449.9,143.1 452.4,142.9 455.3,143.6 458.0,144.2 460.4,145.7 463.0,146.2 465.5,147.7 467.6,149.1 468.9,151.2 471.4,152.1 470.5,154.8 471.7,157.4 470.5,159.2 470.3,161.5 468.4,163.3 468.2,165.7 466.9,167.6 465.4,169.2 463.6,170.6 463.6,173.3 462.1,174.7 461.7,176.8 460.1,178.4 458.7,180.2 455.5,179.9 452.6,180.8 450.5,180.3 448.9,181.8 446.5,182.1 444.3,183.3 443.2,184.7 441.2,185.0 439.3,185.7 437.4,185.0 435.7,183.2 433.9,182.8 431.0,181.6 429.2,179.0 428.3,177.1 426.0,175.7 425.1,173.5 424.3,171.8 425.4,169.7 425.8,167.7 428.1,166.1 430.7,164.7 431.2,162.7 433.2,160.9 433.2,158.7 435.1,157.4 436.1,155.4 437.1,154.2 438.2,151.7 439.2,149.4 440.6,148.0 440.4,145.5 441.1,144.2" fill="url(#shade)"/>
<g clip-path="url(#pc5)" fill="none" stroke="#241a96" stroke-linecap="round" filter="url(#blurv)" opacity="0.5">
<path d="M428.3 161.3Q437.6 165.8 445.6 164.8T463.7 166.4" stroke-width="1.8"/>
<path d="M445.6 164.8Q445.7 173.8 444.9 178.7" stroke-width="1.6"/>
<path d="M450.6 149.0Q446.1 156.8 445.6 164.8" stroke-width="1.2"/>
</g>
<ellipse cx="454.6" cy="155.8" rx="7" ry="4.5" fill="#7f7cff" opacity="0.28" transform="rotate(25 454.6 155.8)" clip-path="url(#pc5)"/>
<polygon points="517.2,143.0 519.6,141.6 522.7,142.5 525.1,142.2 527.8,143.8 530.3,144.1 533.3,145.5 535.5,146.6 538.2,148.0 540.2,149.8 542.5,151.1 545.1,152.7 546.4,155.1 547.9,157.2 547.8,160.0 547.7,161.8 546.5,163.2 544.6,165.7 542.9,167.9 541.4,169.6 539.9,171.6 538.6,173.4 537.4,175.4 536.6,177.8 534.5,179.1 533.8,181.3 531.9,183.1 530.2,183.5 527.8,183.2 525.8,183.6 523.9,183.1 521.5,182.9 520.0,184.0 517.7,185.1 515.6,186.1 513.6,187.4 511.1,187.9 508.8,188.0 506.9,188.8 505.0,186.9 504.6,184.9 502.5,183.3 500.1,181.7 498.9,180.1 497.4,178.1 496.6,175.7 495.3,173.8 494.5,171.3 494.9,169.1 495.1,166.9 496.3,165.4 498.8,165.0 500.6,163.2 502.4,162.6 503.6,161.3 503.8,158.9 504.1,156.8 506.1,155.7 507.7,154.4 509.0,152.3 510.9,150.7 513.0,149.6 513.7,147.0 514.3,145.5 515.8,144.0 515.9,143.2" fill="#5244e8" stroke="#9038e0" stroke-width="1.0" stroke-linejoin="round"/>
<polygon points="517.2,143.0 519.6,141.6 522.7,142.5 525.1,142.2 527.8,143.8 530.3,144.1 533.3,145.5 535.5,146.6 538.2,148.0 540.2,149.8 542.5,151.1 545.1,152.7 546.4,155.1 547.9,157.2 547.8,160.0 547.7,161.8 546.5,163.2 544.6,165.7 542.9,167.9 541.4,169.6 539.9,171.6 538.6,173.4 537.4,175.4 536.6,177.8 534.5,179.1 533.8,181.3 531.9,183.1 530.2,183.5 527.8,183.2 525.8,183.6 523.9,183.1 521.5,182.9 520.0,184.0 517.7,185.1 515.6,186.1 513.6,187.4 511.1,187.9 508.8,188.0 506.9,188.8 505.0,186.9 504.6,184.9 502.5,183.3 500.1,181.7 498.9,180.1 497.4,178.1 496.6,175.7 495.3,173.8 494.5,171.3 494.9,169.1 495.1,166.9 496.3,165.4 498.8,165.0 500.6,163.2 502.4,162.6 503.6,161.3 503.8,158.9 504.1,156.8 506.1,155.7 507.7,154.4 509.0,152.3 510.9,150.7 513.0,149.6 513.7,147.0 514.3,145.5 515.8,144.0 515.9,143.2" fill="#4a3ce0" filter="url(#texR2)" opacity="0.95"/>
<polygon points="517.2,143.0 519.6,141.6 522.7,142.5 525.1,142.2 527.8,143.8 530.3,144.1 533.3,145.5 535.5,146.6 538.2,148.0 540.2,149.8 542.5,151.1 545.1,152.7 546.4,155.1 547.9,157.2 547.8,160.0 547.7,161.8 546.5,163.2 544.6,165.7 542.9,167.9 541.4,169.6 539.9,171.6 538.6,173.4 537.4,175.4 536.6,177.8 534.5,179.1 533.8,181.3 531.9,183.1 530.2,183.5 527.8,183.2 525.8,183.6 523.9,183.1 521.5,182.9 520.0,184.0 517.7,185.1 515.6,186.1 513.6,187.4 511.1,187.9 508.8,188.0 506.9,188.8 505.0,186.9 504.6,184.9 502.5,183.3 500.1,181.7 498.9,180.1 497.4,178.1 496.6,175.7 495.3,173.8 494.5,171.3 494.9,169.1 495.1,166.9 496.3,165.4 498.8,165.0 500.6,163.2 502.4,162.6 503.6,161.3 503.8,158.9 504.1,156.8 506.1,155.7 507.7,154.4 509.0,152.3 510.9,150.7 513.0,149.6 513.7,147.0 514.3,145.5 515.8,144.0 515.9,143.2" fill="url(#shade)"/>
<g clip-path="url(#pc6)" fill="none" stroke="#241a96" stroke-linecap="round" filter="url(#blurv)" opacity="0.5">
<path d="M498.5 165.2Q514.5 169.8 522.5 165.7T539.9 168.5" stroke-width="1.8"/>
<path d="M522.5 165.7Q525.6 174.7 524.2 181.8" stroke-width="1.6"/>
<path d="M534.1 148.6Q520.8 157.7 522.5 165.7" stroke-width="1.2"/>
</g>
<ellipse cx="531.5" cy="156.7" rx="7" ry="4.5" fill="#7f7cff" opacity="0.28" transform="rotate(25 531.5 156.7)" clip-path="url(#pc6)"/>
<polygon points="590.5,142.0 593.3,142.7 596.1,141.9 598.6,142.3 600.9,143.7 603.7,144.8 606.3,145.7 609.0,147.2 612.1,148.0 614.2,149.4 616.1,151.2 617.9,153.6 620.5,154.8 621.1,157.0 621.2,158.7 621.3,161.3 620.7,163.4 621.4,164.6 620.9,165.9 619.5,166.6 617.8,166.8 616.6,168.8 614.8,170.5 613.3,171.5 612.6,173.9 611.1,175.0 610.2,176.5 608.7,178.4 607.2,180.4 605.1,179.8 603.5,181.2 601.2,180.4 599.4,181.0 597.6,181.7 596.2,183.1 593.9,183.7 591.8,184.6 589.7,185.2 587.5,186.0 585.5,186.8 583.6,187.5 583.4,185.4 582.5,183.5 580.1,182.8 578.4,181.4 576.3,179.3 574.0,177.4 573.4,174.9 571.8,173.2 571.9,170.4 571.3,168.6 572.7,167.4 574.0,166.0 575.5,164.5 577.4,163.5 579.4,162.6 581.3,161.2 581.0,159.0 581.1,156.6 582.7,155.2 584.5,153.9 586.0,152.6 587.2,151.5 587.9,148.9 589.0,147.6 590.4,145.7 590.0,143.9 590.1,142.8" fill="#5244e8" stroke="#9038e0" stroke-width="1.0" stroke-linejoin="round"/>
<polygon points="590.5,142.0 593.3,142.7 596.1,141.9 598.6,142.3 600.9,143.7 603.7,144.8 606.3,145.7 609.0,147.2 612.1,148.0 614.2,149.4 616.1,151.2 617.9,153.6 620.5,154.8 621.1,157.0 621.2,158.7 621.3,161.3 620.7,163.4 621.4,164.6 620.9,165.9 619.5,166.6 617.8,166.8 616.6,168.8 614.8,170.5 613.3,171.5 612.6,173.9 611.1,175.0 610.2,176.5 608.7,178.4 607.2,180.4 605.1,179.8 603.5,181.2 601.2,180.4 599.4,181.0 597.6,181.7 596.2,183.1 593.9,183.7 591.8,184.6 589.7,185.2 587.5,186.0 585.5,186.8 583.6,187.5 583.4,185.4 582.5,183.5 580.1,182.8 578.4,181.4 576.3,179.3 574.0,177.4 573.4,174.9 571.8,173.2 571.9,170.4 571.3,168.6 572.7,167.4 574.0,166.0 575.5,164.5 577.4,163.5 579.4,162.6 581.3,161.2 581.0,159.0 581.1,156.6 582.7,155.2 584.5,153.9 586.0,152.6 587.2,151.5 587.9,148.9 589.0,147.6 590.4,145.7 590.0,143.9 590.1,142.8" fill="#4a3ce0" filter="url(#texR2)" opacity="0.95"/>
<polygon points="590.5,142.0 593.3,142.7 596.1,141.9 598.6,142.3 600.9,143.7 603.7,144.8 606.3,145.7 609.0,147.2 612.1,148.0 614.2,149.4 616.1,151.2 617.9,153.6 620.5,154.8 621.1,157.0 621.2,158.7 621.3,161.3 620.7,163.4 621.4,164.6 620.9,165.9 619.5,166.6 617.8,166.8 616.6,168.8 614.8,170.5 613.3,171.5 612.6,173.9 611.1,175.0 610.2,176.5 608.7,178.4 607.2,180.4 605.1,179.8 603.5,181.2 601.2,180.4 599.4,181.0 597.6,181.7 596.2,183.1 593.9,183.7 591.8,184.6 589.7,185.2 587.5,186.0 585.5,186.8 583.6,187.5 583.4,185.4 582.5,183.5 580.1,182.8 578.4,181.4 576.3,179.3 574.0,177.4 573.4,174.9 571.8,173.2 571.9,170.4 571.3,168.6 572.7,167.4 574.0,166.0 575.5,164.5 577.4,163.5 579.4,162.6 581.3,161.2 581.0,159.0 581.1,156.6 582.7,155.2 584.5,153.9 586.0,152.6 587.2,151.5 587.9,148.9 589.0,147.6 590.4,145.7 590.0,143.9 590.1,142.8" fill="url(#shade)"/>
<g clip-path="url(#pc7)" fill="none" stroke="#241a96" stroke-linecap="round" filter="url(#blurv)" opacity="0.5">
<path d="M575.3 164.1Q586.5 166.4 594.5 165.3T613.4 170.4" stroke-width="1.8"/>
<path d="M594.5 165.3Q596.8 174.3 591.8 180.5" stroke-width="1.6"/>
<path d="M601.8 148.9Q592.7 157.3 594.5 165.3" stroke-width="1.2"/>
</g>
<ellipse cx="603.5" cy="156.3" rx="7" ry="4.5" fill="#7f7cff" opacity="0.28" transform="rotate(25 603.5 156.3)" clip-path="url(#pc7)"/>
<g fill="none" stroke-linecap="round" stroke-width="1.15">
<path d="M83.4 151.1 Q86 158 88 165.6 Q90.5 172 91.3 178.8" stroke="#3fe0a8"/>
<path d="M88 165.2 Q95 160.5 102.5 160.3 L106.5 162.3" stroke="#b83ce0"/>
<path d="M89.3 166.9 Q96 171 102.5 177.5" stroke="#b03ce0"/>
<path d="M74.9 164.3 Q81 165.5 87.4 164.9" stroke="#9a4cf0"/>
<path d="M153.8 152.4 Q156 156 157 158.4 Q160 162 162.3 165.6 Q163.4 170 163.6 173.5 L164.9 178.8" stroke="#3fe0a0"/>
<path d="M166.9 145.9 Q163.5 149 162.3 152.4 Q160.5 155.5 161 157.7 Q162 160.5 164.3 162.3 Q168 165.5 172.2 167.6" stroke="#c83cd0"/>
<path d="M177.5 157.7 Q175 160 173.5 163 L171.5 168.9" stroke="#c83cd0"/>
<path d="M148.5 162.3 Q154 160.6 159 160.3" stroke="#40d8d0"/>
</g>
<circle cx="85.4" cy="143.4" r="1.4" fill="#b840e4"/>
<circle cx="115.9" cy="168.0" r="1.3" fill="#b840e4"/>
<circle cx="78.1" cy="188.4" r="1.4" fill="#b840e4"/>
<circle cx="69.2" cy="169.6" r="0.8" fill="#b840e4"/>
<circle cx="92.8" cy="145.4" r="0.8" fill="#b840e4"/>
<circle cx="151.0" cy="189.6" r="1.3" fill="#b840e4"/>
<circle cx="291.4" cy="191.2" r="1.2" fill="#b840e4"/>
<circle cx="365.8" cy="187.6" r="1.2" fill="#b840e4"/>
<circle cx="438.1" cy="188.8" r="1.2" fill="#b840e4"/>
<circle cx="455.2" cy="183.0" r="1.0" fill="#b840e4"/>
<circle cx="401.3" cy="162.5" r="0.6" fill="#b840e4"/>
<circle cx="548.2" cy="168.2" r="1.0" fill="#b840e4"/>
<g stroke="#a83ce2" stroke-width="1.1" stroke-linecap="round"><path d="M85.4 143.4L86.2 147M78.1 188.4L79.6 185.4M115.9 168L112.4 167.2M151 189.6L151.6 186M291.4 191.2L291.8 187.4M365.8 187.6L366.2 184.2M438.1 188.8L438.4 185M548.2 168.2L546.4 166"/></g>
<defs><linearGradient id="cbB" x1="0" y1="0" x2="0" y2="1"><stop offset="0" stop-color="#ff1a10"/><stop offset="0.08" stop-color="#f0201c"/><stop offset="0.27" stop-color="#7a1f6e"/><stop offset="0.5" stop-color="#3c3cf4"/><stop offset="0.62" stop-color="#4a78d8"/><stop offset="0.76" stop-color="#4fd040"/><stop offset="0.92" stop-color="#d8f040"/><stop offset="1" stop-color="#f4f850"/></linearGradient></defs>
<rect x="633.1" y="131.2" width="9.0" height="68.0" fill="url(#cbB)"/>
<text x="644.50" y="135.90" font-family="'Liberation Sans', sans-serif" font-size="11.0" fill="#111">10</text>
<text x="644.50" y="152.20" font-family="'Liberation Sans', sans-serif" font-size="11.0" fill="#111">5</text>
<text x="644.50" y="168.60" font-family="'Liberation Sans', sans-serif" font-size="11.0" fill="#111">0</text>
<text x="644.50" y="184.90" font-family="'Liberation Sans', sans-serif" font-size="11.0" fill="#111">-5</text>
<text x="644.50" y="201.20" font-family="'Liberation Sans', sans-serif" font-size="11.0" fill="#111">-10</text>
<text x="672.20" y="151.50" font-family="'Liberation Sans', sans-serif" font-size="11.5" fill="#111" text-anchor="middle" textLength="124.0" lengthAdjust="spacingAndGlyphs" transform="rotate(-90 672.20 151.50)">Mean curvature (arb. u.)</text>
<text x="0.30" y="222.80" font-family="'Liberation Sans', sans-serif" font-size="12" fill="#111" textLength="16.0" lengthAdjust="spacingAndGlyphs">(C)</text>
<defs><filter id="hblur" x="-0.3" y="-0.3" width="1.6" height="1.6"><feGaussianBlur stdDeviation="0.75"/></filter>
<radialGradient id="hh0" gradientUnits="userSpaceOnUse" cx="0" cy="0" r="1" fx="0.2" fy="0.5" gradientTransform="translate(81.6 251.9) rotate(-40) scale(30.4 11.6)"><stop offset="0" stop-color="#182aff" stop-opacity="1"/><stop offset="0.3" stop-color="#182aff" stop-opacity="1"/><stop offset="0.55" stop-color="#1a1ef8" stop-opacity="0.9"/><stop offset="0.8" stop-color="#1a12e0" stop-opacity="0.55"/><stop offset="1" stop-color="#19069e" stop-opacity="0"/></radialGradient>
<radialGradient id="hu0" gradientUnits="userSpaceOnUse" cx="0" cy="0" r="1" fx="0.3" fy="0.3" gradientTransform="translate(90.3 243.1) rotate(12) scale(5.6 13.6)"><stop offset="0" stop-color="#1a22fc" stop-opacity="0.9"/><stop offset="0.5" stop-color="#1a16ea" stop-opacity="0.6"/><stop offset="1" stop-color="#19069e" stop-opacity="0"/></radialGradient>
<clipPath id="hc0"><rect x="55.5" y="219.8" width="56.6" height="56.8"/></clipPath>
<radialGradient id="hh1" gradientUnits="userSpaceOnUse" cx="0" cy="0" r="1" fx="0.2" fy="0.5" gradientTransform="translate(157.3 251.7) rotate(-40) scale(31.2 11.9)"><stop offset="0" stop-color="#182aff" stop-opacity="1"/><stop offset="0.3" stop-color="#182aff" stop-opacity="1"/><stop offset="0.55" stop-color="#1a1ef8" stop-opacity="0.9"/><stop offset="0.8" stop-color="#1a12e0" stop-opacity="0.55"/><stop offset="1" stop-color="#19069e" stop-opacity="0"/></radialGradient>
<radialGradient id="hu1" gradientUnits="userSpaceOnUse" cx="0" cy="0" r="1" fx="0.3" fy="0.3" gradientTransform="translate(166.3 242.7) rotate(12) scale(5.7 13.9)"><stop offset="0" stop-color="#1a22fc" stop-opacity="0.9"/><stop offset="0.5" stop-color="#1a16ea" stop-opacity="0.6"/><stop offset="1" stop-color="#19069e" stop-opacity="0"/></radialGradient>
<clipPath id="hc1"><rect x="130.1" y="219.8" width="57.4" height="56.8"/></clipPath>
<radialGradient id="hh2" gradientUnits="userSpaceOnUse" cx="0" cy="0" r="1" fx="0.2" fy="0.5" gradientTransform="translate(229.3 250.3) rotate(-40) scale(38.0 14.5)"><stop offset="0" stop-color="#182aff" stop-opacity="1"/><stop offset="0.3" stop-color="#182aff" stop-opacity="1"/><stop offset="0.55" stop-color="#1a1ef8" stop-opacity="0.9"/><stop offset="0.8" stop-color="#1a12e0" stop-opacity="0.55"/><stop offset="1" stop-color="#19069e" stop-opacity="0"/></radialGradient>
<radialGradient id="hu2" gradientUnits="userSpaceOnUse" cx="0" cy="0" r="1" fx="0.3" fy="0.3" gradientTransform="translate(240.8 239.3) rotate(12) scale(7.0 17.0)"><stop offset="0" stop-color="#1a22fc" stop-opacity="0.9"/><stop offset="0.5" stop-color="#1a16ea" stop-opacity="0.6"/><stop offset="1" stop-color="#19069e" stop-opacity="0"/></radialGradient>
<clipPath id="hc2"><rect x="205.1" y="219.8" width="57.5" height="56.8"/></clipPath>
<radialGradient id="hh3" gradientUnits="userSpaceOnUse" cx="0" cy="0" r="1" fx="0.2" fy="0.5" gradientTransform="translate(304.7 250.9) rotate(-40) scale(35.0 13.3)"><stop offset="0" stop-color="#182aff" stop-opacity="1"/><stop offset="0.3" stop-color="#182aff" stop-opacity="1"/><stop offset="0.55" stop-color="#1a1ef8" stop-opacity="0.9"/><stop offset="0.8" stop-color="#1a12e0" stop-opacity="0.55"/><stop offset="1" stop-color="#19069e" stop-opacity="0"/></radialGradient>
<radialGradient id="hu3" gradientUnits="userSpaceOnUse" cx="0" cy="0" r="1" fx="0.3" fy="0.3" gradientTransform="translate(315.1 240.8) rotate(12) scale(6.4 15.6)"><stop offset="0" stop-color="#1a22fc" stop-opacity="0.9"/><stop offset="0.5" stop-color="#1a16ea" stop-opacity="0.6"/><stop offset="1" stop-color="#19069e" stop-opacity="0"/></radialGradient>
<clipPath id="hc3"><rect x="279.4" y="219.8" width="57.5" height="56.8"/></clipPath>
<radialGradient id="hh4" gradientUnits="userSpaceOnUse" cx="0" cy="0" r="1" fx="0.2" fy="0.5" gradientTransform="translate(379.8 250.9) rotate(-40) scale(35.0 13.3)"><stop offset="0" stop-color="#182aff" stop-opacity="1"/><stop offset="0.3" stop-color="#182aff" stop-opacity="1"/><stop offset="0.55" stop-color="#1a1ef8" stop-opacity="0.9"/><stop offset="0.8" stop-color="#1a12e0" stop-opacity="0.55"/><stop offset="1" stop-color="#19069e" stop-opacity="0"/></radialGradient>
<radialGradient id="hu4" gradientUnits="userSpaceOnUse" cx="0" cy="0" r="1" fx="0.3" fy="0.3" gradientTransform="translate(390.2 240.8) rotate(12) scale(6.4 15.6)"><stop offset="0" stop-color="#1a22fc" stop-opacity="0.9"/><stop offset="0.5" stop-color="#1a16ea" stop-opacity="0.6"/><stop offset="1" stop-color="#19069e" stop-opacity="0"/></radialGradient>
<clipPath id="hc4"><rect x="354.7" y="219.8" width="57.6" height="56.8"/></clipPath>
<radialGradient id="hh5" gradientUnits="userSpaceOnUse" cx="0" cy="0" r="1" fx="0.2" fy="0.5" gradientTransform="translate(454.7 250.9) rotate(-40) scale(35.0 13.3)"><stop offset="0" stop-color="#182aff" stop-opacity="1"/><stop offset="0.3" stop-color="#182aff" stop-opacity="1"/><stop offset="0.55" stop-color="#1a1ef8" stop-opacity="0.9"/><stop offset="0.8" stop-color="#1a12e0" stop-opacity="0.55"/><stop offset="1" stop-color="#19069e" stop-opacity="0"/></radialGradient>
<radialGradient id="hu5" gradientUnits="userSpaceOnUse" cx="0" cy="0" r="1" fx="0.3" fy="0.3" gradientTransform="translate(465.1 240.8) rotate(12) scale(6.4 15.6)"><stop offset="0" stop-color="#1a22fc" stop-opacity="0.9"/><stop offset="0.5" stop-color="#1a16ea" stop-opacity="0.6"/><stop offset="1" stop-color="#19069e" stop-opacity="0"/></radialGradient>
<clipPath id="hc5"><rect x="429.4" y="219.8" width="57.8" height="56.8"/></clipPath>
<radialGradient id="hh6" gradientUnits="userSpaceOnUse" cx="0" cy="0" r="1" fx="0.2" fy="0.5" gradientTransform="translate(528.5 250.3) rotate(-40) scale(38.0 14.5)"><stop offset="0" stop-color="#182aff" stop-opacity="1"/><stop offset="0.3" stop-color="#182aff" stop-opacity="1"/><stop offset="0.55" stop-color="#1a1ef8" stop-opacity="0.9"/><stop offset="0.8" stop-color="#1a12e0" stop-opacity="0.55"/><stop offset="1" stop-color="#19069e" stop-opacity="0"/></radialGradient>
<radialGradient id="hu6" gradientUnits="userSpaceOnUse" cx="0" cy="0" r="1" fx="0.3" fy="0.3" gradientTransform="translate(540.0 239.3) rotate(12) scale(7.0 17.0)"><stop offset="0" stop-color="#1a22fc" stop-opacity="0.9"/><stop offset="0.5" stop-color="#1a16ea" stop-opacity="0.6"/><stop offset="1" stop-color="#19069e" stop-opacity="0"/></radialGradient>
<clipPath id="hc6"><rect x="504.8" y="219.8" width="56.9" height="56.8"/></clipPath>
<radialGradient id="hh7" gradientUnits="userSpaceOnUse" cx="0" cy="0" r="1" fx="0.2" fy="0.5" gradientTransform="translate(604.7 250.9) rotate(-40) scale(35.0 13.3)"><stop offset="0" stop-color="#182aff" stop-opacity="1"/><stop offset="0.3" stop-color="#182aff" stop-opacity="1"/><stop offset="0.55" stop-color="#1a1ef8" stop-opacity="0.9"/><stop offset="0.8" stop-color="#1a12e0" stop-opacity="0.55"/><stop offset="1" stop-color="#19069e" stop-opacity="0"/></radialGradient>
<radialGradient id="hu7" gradientUnits="userSpaceOnUse" cx="0" cy="0" r="1" fx="0.3" fy="0.3" gradientTransform="translate(615.1 240.8) rotate(12) scale(6.4 15.6)"><stop offset="0" stop-color="#1a22fc" stop-opacity="0.9"/><stop offset="0.5" stop-color="#1a16ea" stop-opacity="0.6"/><stop offset="1" stop-color="#19069e" stop-opacity="0"/></radialGradient>
<clipPath id="hc7"><rect x="579.4" y="219.8" width="57.5" height="56.8"/></clipPath>
</defs>
<rect x="55.5" y="219.8" width="56.6" height="56.8" fill="#19069e"/>
<g clip-path="url(#hc0)">
<rect x="55.5" y="219.8" width="56.6" height="56.8" fill="url(#hu0)"/>
<rect x="55.5" y="219.8" width="56.6" height="56.8" fill="url(#hh0)"/>
<g filter="url(#hblur)">
<path d="M79.2 258.9C79.5 260.3 82.6 260.7 84.9 260.8C87.3 261.0 91.5 261.2 93.3 260.0C95.1 258.8 95.1 256.0 95.8 253.8C96.5 251.6 97.4 249.0 97.6 246.9C97.8 244.8 97.4 242.7 97.0 241.2C96.7 239.7 96.0 238.3 95.3 237.9C94.5 237.5 93.9 237.4 92.8 238.8C91.6 240.1 89.7 243.5 88.2 245.8C86.7 248.1 85.2 250.5 83.7 252.7C82.2 254.9 79.0 257.5 79.2 258.9Z" fill="#1632ff" fill-opacity="0.7"/>
<path d="M81.2 258.0C81.4 259.1 84.0 259.5 85.9 259.6C87.9 259.8 91.4 259.9 92.9 258.9C94.4 258.0 94.3 255.6 94.9 253.8C95.5 252.0 96.2 249.8 96.4 248.1C96.6 246.4 96.3 244.7 95.9 243.4C95.6 242.2 95.1 241.0 94.5 240.7C93.9 240.3 93.4 240.3 92.4 241.4C91.4 242.5 89.9 245.3 88.6 247.2C87.4 249.1 86.1 251.1 84.9 252.9C83.7 254.7 81.1 256.9 81.2 258.0Z" fill="#006eff"/>
<path d="M82.4 257.5C82.6 258.5 84.8 258.8 86.5 258.9C88.2 259.0 91.3 259.2 92.6 258.3C93.9 257.4 93.9 255.4 94.4 253.8C94.9 252.2 95.6 250.3 95.7 248.8C95.8 247.3 95.6 245.8 95.3 244.7C95.0 243.6 94.5 242.6 94.0 242.3C93.5 242.0 93.0 242.0 92.2 242.9C91.4 243.8 90.0 246.3 88.9 248.0C87.8 249.7 86.7 251.4 85.6 253.0C84.5 254.6 82.2 256.5 82.4 257.5Z" fill="#00c8ff"/>
<path d="M83.2 257.1C83.4 258.0 85.4 258.3 86.9 258.4C88.5 258.5 91.2 258.6 92.4 257.9C93.6 257.1 93.6 255.2 94.0 253.8C94.5 252.4 95.1 250.7 95.2 249.3C95.3 247.9 95.1 246.6 94.8 245.6C94.6 244.6 94.1 243.7 93.7 243.5C93.2 243.2 92.8 243.1 92.0 244.0C91.3 244.8 90.1 247.1 89.1 248.6C88.1 250.1 87.1 251.7 86.1 253.1C85.1 254.5 83.1 256.2 83.2 257.1Z" fill="#3cffbe"/>
<path d="M84.1 256.8C84.2 257.5 86.0 257.8 87.3 257.9C88.7 258.0 91.2 258.1 92.2 257.4C93.3 256.7 93.2 255.1 93.7 253.8C94.1 252.5 94.6 251.0 94.7 249.8C94.8 248.6 94.6 247.4 94.4 246.5C94.2 245.7 93.8 244.8 93.3 244.6C92.9 244.4 92.6 244.3 91.9 245.1C91.2 245.8 90.1 247.8 89.3 249.2C88.4 250.5 87.5 251.9 86.6 253.2C85.8 254.4 83.9 256.0 84.1 256.8Z" fill="#beff3c"/>
<path d="M84.8 256.4C84.9 257.1 86.5 257.3 87.7 257.4C88.9 257.5 91.1 257.6 92.0 257.0C93.0 256.4 93.0 254.9 93.3 253.8C93.7 252.7 94.1 251.3 94.2 250.2C94.4 249.2 94.2 248.1 94.0 247.3C93.8 246.6 93.4 245.8 93.0 245.6C92.7 245.4 92.4 245.4 91.8 246.1C91.2 246.7 90.2 248.5 89.4 249.7C88.6 250.9 87.8 252.1 87.1 253.2C86.3 254.4 84.7 255.7 84.8 256.4Z" fill="#ffc800"/>
<path d="M85.6 256.1C85.6 256.7 87.0 256.9 88.1 257.0C89.2 257.0 91.1 257.1 91.9 256.6C92.7 256.1 92.7 254.8 93.0 253.8C93.3 252.8 93.7 251.6 93.8 250.7C93.9 249.8 93.7 248.8 93.6 248.2C93.4 247.5 93.1 246.9 92.7 246.7C92.4 246.5 92.2 246.5 91.6 247.0C91.1 247.6 90.3 249.2 89.6 250.2C88.9 251.2 88.2 252.3 87.5 253.3C86.9 254.3 85.5 255.5 85.6 256.1Z" fill="#ff3c00"/>
<path d="M86.2 255.8C86.3 256.3 87.5 256.5 88.4 256.6C89.3 256.6 91.0 256.7 91.7 256.2C92.4 255.8 92.4 254.7 92.7 253.8C93.0 252.9 93.3 251.9 93.4 251.1C93.5 250.3 93.3 249.5 93.2 248.9C93.0 248.3 92.8 247.8 92.5 247.6C92.2 247.4 92.0 247.4 91.5 247.9C91.1 248.4 90.3 249.8 89.7 250.7C89.1 251.6 88.5 252.5 87.9 253.4C87.4 254.2 86.1 255.3 86.2 255.8Z" fill="#a50000"/>
<path d="M87.2 255.4C87.3 255.8 88.2 255.9 88.9 255.9C89.7 256.0 90.9 256.0 91.5 255.7C92.1 255.3 92.0 254.5 92.3 253.8C92.5 253.1 92.7 252.3 92.8 251.7C92.9 251.1 92.8 250.4 92.6 250.0C92.5 249.5 92.3 249.1 92.1 249.0C91.9 248.8 91.7 248.8 91.3 249.2C91.0 249.6 90.4 250.7 89.9 251.4C89.5 252.1 89.0 252.8 88.6 253.5C88.1 254.1 87.2 254.9 87.2 255.4Z" fill="#800000"/>
</g>
<line x1="92.8" y1="219.8" x2="92.8" y2="276.6" stroke="#d8d8f0" stroke-opacity="0.55" stroke-width="0.6"/>
<line x1="55.5" y1="258.3" x2="112.1" y2="258.3" stroke="#d8d8f0" stroke-opacity="0.55" stroke-width="0.6"/>
</g>
<text x="52.10" y="232.60" font-family="'Liberation Sans', sans-serif" font-size="9.0" fill="#111" text-anchor="end">8</text>
<text x="52.10" y="247.20" font-family="'Liberation Sans', sans-serif" font-size="9.0" fill="#111" text-anchor="end">4</text>
<text x="52.10" y="261.70" font-family="'Liberation Sans', sans-serif" font-size="9.0" fill="#111" text-anchor="end">0</text>
<text x="52.10" y="279.20" font-family="'Liberation Sans', sans-serif" font-size="9.0" fill="#111" text-anchor="end">-4</text>
<text x="58.60" y="287.20" font-family="'Liberation Sans', sans-serif" font-size="9.0" fill="#111" text-anchor="middle">-8</text>
<text x="75.60" y="287.20" font-family="'Liberation Sans', sans-serif" font-size="9.0" fill="#111" text-anchor="middle">-4</text>
<text x="93.00" y="287.20" font-family="'Liberation Sans', sans-serif" font-size="9.0" fill="#111" text-anchor="middle">0</text>
<text x="110.00" y="287.20" font-family="'Liberation Sans', sans-serif" font-size="9.0" fill="#111" text-anchor="middle">4</text>
<rect x="130.1" y="219.8" width="57.4" height="56.8" fill="#19069e"/>
<g clip-path="url(#hc1)">
<rect x="130.1" y="219.8" width="57.4" height="56.8" fill="url(#hu1)"/>
<rect x="130.1" y="219.8" width="57.4" height="56.8" fill="url(#hh1)"/>
<g filter="url(#hblur)">
<path d="M153.1 259.1C153.2 260.3 156.4 261.1 158.8 261.3C161.2 261.5 165.3 261.2 167.4 260.2C169.4 259.1 170.3 257.0 171.4 255.1C172.4 253.1 173.2 250.3 173.6 248.3C173.9 246.3 173.8 244.6 173.4 243.2C173.1 241.8 172.2 240.1 171.4 239.7C170.5 239.3 169.7 239.7 168.5 240.8C167.2 242.0 165.6 244.3 163.9 246.5C162.2 248.7 160.0 251.9 158.2 254.0C156.5 256.0 153.1 257.8 153.1 259.1Z" fill="#1632ff" fill-opacity="0.7"/>
<path d="M155.3 258.1C155.4 259.1 158.0 259.7 160.0 259.9C162.0 260.1 165.3 259.8 167.1 259.0C168.8 258.1 169.5 256.4 170.4 254.8C171.2 253.1 171.9 250.8 172.2 249.2C172.5 247.5 172.4 246.1 172.1 245.0C171.8 243.8 171.1 242.4 170.4 242.1C169.7 241.8 169.0 242.1 168.0 243.0C167.0 244.0 165.6 245.9 164.2 247.7C162.8 249.5 161.0 252.1 159.5 253.9C158.1 255.6 155.3 257.1 155.3 258.1Z" fill="#006eff"/>
<path d="M156.6 257.5C156.7 258.4 159.0 259.0 160.7 259.1C162.4 259.2 165.4 259.1 166.9 258.3C168.4 257.6 169.1 256.0 169.8 254.6C170.6 253.2 171.2 251.1 171.4 249.7C171.7 248.3 171.6 247.0 171.3 246.0C171.0 245.0 170.4 243.8 169.8 243.5C169.2 243.2 168.6 243.5 167.7 244.3C166.8 245.1 165.6 246.8 164.4 248.4C163.2 250.0 161.6 252.3 160.3 253.8C159.0 255.3 156.5 256.6 156.6 257.5Z" fill="#00c8ff"/>
<path d="M157.5 257.1C157.6 257.9 159.7 258.4 161.2 258.5C162.7 258.7 165.4 258.5 166.8 257.8C168.1 257.1 168.7 255.8 169.4 254.5C170.1 253.2 170.6 251.4 170.8 250.1C171.1 248.8 171.0 247.7 170.7 246.7C170.5 245.8 169.9 244.7 169.4 244.5C168.9 244.2 168.3 244.5 167.5 245.2C166.7 245.9 165.6 247.5 164.5 248.9C163.4 250.3 162.0 252.4 160.8 253.8C159.7 255.1 157.5 256.3 157.5 257.1Z" fill="#3cffbe"/>
<path d="M158.4 256.7C158.5 257.4 160.3 257.9 161.7 258.0C163.1 258.1 165.4 257.9 166.7 257.3C167.9 256.7 168.4 255.5 169.0 254.4C169.6 253.2 170.1 251.6 170.3 250.4C170.5 249.3 170.4 248.3 170.2 247.5C170.0 246.7 169.5 245.7 169.0 245.5C168.5 245.3 168.0 245.5 167.3 246.1C166.6 246.8 165.6 248.1 164.7 249.4C163.7 250.7 162.4 252.5 161.4 253.7C160.3 254.9 158.4 256.0 158.4 256.7Z" fill="#beff3c"/>
<path d="M159.2 256.3C159.3 256.9 160.9 257.4 162.2 257.4C163.4 257.5 165.5 257.4 166.6 256.9C167.6 256.3 168.1 255.3 168.6 254.3C169.1 253.2 169.6 251.8 169.7 250.8C169.9 249.8 169.9 248.9 169.7 248.1C169.5 247.4 169.0 246.6 168.6 246.4C168.2 246.2 167.8 246.4 167.1 246.9C166.5 247.5 165.7 248.7 164.8 249.8C163.9 251.0 162.8 252.6 161.9 253.7C160.9 254.8 159.2 255.7 159.2 256.3Z" fill="#ffc800"/>
<path d="M160.1 255.9C160.1 256.5 161.5 256.9 162.6 256.9C163.7 257.0 165.5 256.9 166.4 256.4C167.4 256.0 167.8 255.0 168.2 254.1C168.7 253.3 169.1 252.0 169.2 251.1C169.4 250.2 169.3 249.5 169.2 248.8C169.0 248.2 168.6 247.4 168.2 247.3C167.9 247.1 167.5 247.3 166.9 247.8C166.4 248.3 165.7 249.3 164.9 250.3C164.1 251.3 163.2 252.7 162.4 253.6C161.5 254.6 160.0 255.4 160.1 255.9Z" fill="#ff3c00"/>
<path d="M160.8 255.6C160.8 256.1 162.1 256.4 163.0 256.5C163.9 256.6 165.5 256.5 166.3 256.0C167.2 255.6 167.5 254.8 167.9 254.0C168.3 253.3 168.6 252.2 168.8 251.4C168.9 250.6 168.9 250.0 168.7 249.4C168.6 248.8 168.2 248.2 167.9 248.1C167.6 247.9 167.3 248.0 166.8 248.5C166.3 248.9 165.7 249.8 165.0 250.7C164.3 251.6 163.5 252.8 162.8 253.6C162.1 254.4 160.8 255.1 160.8 255.6Z" fill="#a50000"/>
<path d="M161.9 255.1C161.9 255.5 162.9 255.7 163.6 255.8C164.3 255.9 165.6 255.8 166.2 255.5C166.8 255.1 167.1 254.5 167.4 253.9C167.7 253.3 168.0 252.4 168.1 251.8C168.2 251.2 168.2 250.7 168.1 250.3C167.9 249.9 167.7 249.4 167.4 249.2C167.2 249.1 166.9 249.2 166.5 249.6C166.2 249.9 165.7 250.6 165.2 251.3C164.6 252.0 164.0 252.9 163.4 253.6C162.9 254.2 161.9 254.8 161.9 255.1Z" fill="#800000"/>
</g>
<line x1="168.8" y1="219.8" x2="168.8" y2="276.6" stroke="#d8d8f0" stroke-opacity="0.55" stroke-width="0.6"/>
<line x1="130.1" y1="258.3" x2="187.5" y2="258.3" stroke="#d8d8f0" stroke-opacity="0.55" stroke-width="0.6"/>
</g>
<text x="127.90" y="234.00" font-family="'Liberation Sans', sans-serif" font-size="9.0" fill="#111" text-anchor="end">8</text>
<text x="127.90" y="249.50" font-family="'Liberation Sans', sans-serif" font-size="9.0" fill="#111" text-anchor="end">4</text>
<text x="127.90" y="264.80" font-family="'Liberation Sans', sans-serif" font-size="9.0" fill="#111" text-anchor="end">0</text>
<text x="127.90" y="280.40" font-family="'Liberation Sans', sans-serif" font-size="9.0" fill="#111" text-anchor="end">-4</text>
<text x="138.67" y="287.60" font-family="'Liberation Sans', sans-serif" font-size="9.0" fill="#111" text-anchor="middle">-8</text>
<text x="153.77" y="287.60" font-family="'Liberation Sans', sans-serif" font-size="9.0" fill="#111" text-anchor="middle">-4</text>
<text x="169.77" y="287.60" font-family="'Liberation Sans', sans-serif" font-size="9.0" fill="#111" text-anchor="middle">0</text>
<text x="185.17" y="287.60" font-family="'Liberation Sans', sans-serif" font-size="9.0" fill="#111" text-anchor="middle">4</text>
<rect x="205.1" y="219.8" width="57.5" height="56.8" fill="#19069e"/>
<g clip-path="url(#hc2)">
<rect x="205.1" y="219.8" width="57.5" height="56.8" fill="url(#hu2)"/>
<rect x="205.1" y="219.8" width="57.5" height="56.8" fill="url(#hh2)"/>
<g filter="url(#hblur)">
<path d="M227.0 260.6C228.2 261.9 231.9 263.6 234.7 263.0C237.4 262.3 241.2 259.4 243.5 256.9C245.9 254.3 247.9 250.2 248.8 247.6C249.8 245.1 249.7 243.1 249.2 241.4C248.8 239.8 247.7 238.3 246.2 237.9C244.7 237.5 242.6 237.4 240.4 238.9C238.2 240.4 235.1 244.2 233.0 246.9C230.9 249.5 228.7 252.5 227.7 254.8C226.7 257.1 225.9 259.2 227.0 260.6Z" fill="#1632ff" fill-opacity="0.7"/>
<path d="M229.1 259.3C230.1 260.4 233.3 261.8 235.6 261.3C238.0 260.8 241.1 258.3 243.1 256.1C245.1 254.0 246.8 250.5 247.6 248.3C248.4 246.1 248.3 244.4 248.0 243.0C247.6 241.7 246.6 240.4 245.4 240.0C244.1 239.7 242.3 239.6 240.5 240.9C238.6 242.2 236.0 245.4 234.2 247.6C232.4 249.9 230.5 252.4 229.7 254.4C228.9 256.3 228.2 258.1 229.1 259.3Z" fill="#0064ff"/>
<path d="M230.4 258.5C231.3 259.5 234.1 260.8 236.2 260.3C238.3 259.8 241.1 257.6 242.9 255.7C244.7 253.8 246.2 250.6 246.9 248.7C247.6 246.8 247.5 245.2 247.2 244.0C246.9 242.8 246.0 241.6 244.9 241.3C243.8 241.0 242.2 241.0 240.5 242.1C238.8 243.2 236.5 246.1 234.9 248.1C233.3 250.1 231.7 252.4 230.9 254.1C230.2 255.8 229.5 257.5 230.4 258.5Z" fill="#00aaff"/>
<path d="M232.5 257.2C233.2 258.0 235.5 259.0 237.1 258.6C238.8 258.3 241.1 256.5 242.5 255.0C243.9 253.4 245.1 250.9 245.7 249.4C246.3 247.8 246.2 246.6 245.9 245.6C245.7 244.6 245.0 243.7 244.1 243.4C243.2 243.2 241.9 243.2 240.6 244.1C239.2 245.0 237.4 247.3 236.1 248.9C234.8 250.5 233.5 252.3 232.9 253.7C232.3 255.1 231.8 256.4 232.5 257.2Z" fill="#14ebf0"/>
<path d="M234.6 255.9C235.1 256.5 236.8 257.3 238.1 257.0C239.3 256.7 241.0 255.4 242.1 254.2C243.2 253.1 244.1 251.2 244.5 250.0C244.9 248.9 244.9 247.9 244.7 247.2C244.5 246.5 244.0 245.8 243.3 245.6C242.6 245.4 241.7 245.4 240.7 246.1C239.7 246.7 238.3 248.5 237.3 249.7C236.3 250.9 235.4 252.2 234.9 253.3C234.4 254.3 234.1 255.3 234.6 255.9Z" fill="#5affa0"/>
<path d="M236.5 254.7C236.9 255.2 238.1 255.7 238.9 255.5C239.8 255.3 241.0 254.4 241.7 253.6C242.5 252.7 243.1 251.4 243.4 250.6C243.7 249.8 243.7 249.2 243.5 248.6C243.4 248.1 243.0 247.6 242.6 247.5C242.1 247.4 241.4 247.4 240.7 247.8C240.0 248.3 239.1 249.5 238.4 250.4C237.7 251.2 237.0 252.2 236.7 252.9C236.4 253.6 236.1 254.3 236.5 254.7Z" fill="#a0ff5a"/>
<path d="M238.4 253.6C238.6 253.8 239.3 254.1 239.8 254.0C240.3 253.9 241.0 253.4 241.4 252.9C241.8 252.4 242.2 251.7 242.3 251.2C242.5 250.7 242.5 250.4 242.4 250.1C242.3 249.8 242.1 249.5 241.9 249.4C241.6 249.4 241.2 249.4 240.8 249.6C240.4 249.9 239.8 250.6 239.5 251.1C239.1 251.5 238.7 252.1 238.5 252.5C238.3 252.9 238.2 253.3 238.4 253.6Z" fill="#d7ff28"/>
</g>
<line x1="243.3" y1="219.8" x2="243.3" y2="276.6" stroke="#d8d8f0" stroke-opacity="0.55" stroke-width="0.6"/>
<line x1="205.1" y1="258.3" x2="262.6" y2="258.3" stroke="#d8d8f0" stroke-opacity="0.55" stroke-width="0.6"/>
</g>
<text x="202.90" y="234.00" font-family="'Liberation Sans', sans-serif" font-size="9.0" fill="#111" text-anchor="end">8</text>
<text x="202.90" y="249.50" font-family="'Liberation Sans', sans-serif" font-size="9.0" fill="#111" text-anchor="end">4</text>
<text x="202.90" y="264.80" font-family="'Liberation Sans', sans-serif" font-size="9.0" fill="#111" text-anchor="end">0</text>
<text x="202.90" y="280.40" font-family="'Liberation Sans', sans-serif" font-size="9.0" fill="#111" text-anchor="end">-4</text>
<text x="213.54" y="287.60" font-family="'Liberation Sans', sans-serif" font-size="9.0" fill="#111" text-anchor="middle">-8</text>
<text x="228.64" y="287.60" font-family="'Liberation Sans', sans-serif" font-size="9.0" fill="#111" text-anchor="middle">-4</text>
<text x="244.64" y="287.60" font-family="'Liberation Sans', sans-serif" font-size="9.0" fill="#111" text-anchor="middle">0</text>
<text x="260.04" y="287.60" font-family="'Liberation Sans', sans-serif" font-size="9.0" fill="#111" text-anchor="middle">4</text>
<rect x="279.4" y="219.8" width="57.5" height="56.8" fill="#19069e"/>
<g clip-path="url(#hc3)">
<rect x="279.4" y="219.8" width="57.5" height="56.8" fill="url(#hu3)"/>
<rect x="279.4" y="219.8" width="57.5" height="56.8" fill="url(#hh3)"/>
<g filter="url(#hblur)">
<path d="M302.2 260.1C303.1 261.7 307.2 262.3 309.8 262.1C312.4 261.9 315.8 260.7 317.9 258.8C319.9 256.9 321.3 253.3 322.2 250.9C323.2 248.4 323.7 246.2 323.5 244.2C323.4 242.1 322.4 239.6 321.3 238.7C320.2 237.9 318.6 238.2 316.8 239.3C315.0 240.4 312.7 243.1 310.6 245.3C308.5 247.5 305.8 250.0 304.4 252.5C303.0 254.9 301.3 258.5 302.2 260.1Z" fill="#1632ff" fill-opacity="0.7"/>
<path d="M304.1 259.1C304.9 260.5 308.4 261.0 310.6 260.8C312.8 260.6 315.7 259.6 317.5 258.0C319.2 256.4 320.3 253.3 321.1 251.3C322.0 249.2 322.4 247.3 322.3 245.6C322.1 243.8 321.3 241.7 320.4 241.0C319.4 240.3 318.1 240.5 316.6 241.4C315.0 242.3 313.0 244.7 311.3 246.6C309.5 248.4 307.2 250.5 306.0 252.6C304.8 254.7 303.4 257.7 304.1 259.1Z" fill="#006eff"/>
<path d="M305.3 258.5C306.0 259.7 309.1 260.2 311.1 260.0C313.1 259.8 315.6 258.9 317.2 257.5C318.8 256.1 319.8 253.3 320.5 251.5C321.2 249.7 321.6 247.9 321.5 246.4C321.4 244.9 320.6 242.9 319.8 242.3C319.0 241.7 317.8 241.9 316.4 242.7C315.1 243.5 313.3 245.6 311.7 247.3C310.1 249.0 308.1 250.8 307.0 252.7C305.9 254.6 304.6 257.3 305.3 258.5Z" fill="#00beff"/>
<path d="M306.7 257.8C307.3 258.8 310.0 259.2 311.7 259.1C313.4 258.9 315.6 258.1 316.9 256.9C318.3 255.7 319.1 253.4 319.7 251.8C320.4 250.2 320.7 248.7 320.6 247.4C320.5 246.1 319.9 244.4 319.1 243.9C318.4 243.3 317.4 243.5 316.2 244.2C315.1 244.9 313.5 246.7 312.2 248.2C310.8 249.6 309.1 251.2 308.1 252.8C307.2 254.4 306.1 256.7 306.7 257.8Z" fill="#28ffd2"/>
<path d="M308.0 257.1C308.5 257.9 310.8 258.3 312.2 258.2C313.6 258.0 315.5 257.4 316.6 256.4C317.7 255.3 318.5 253.4 319.0 252.0C319.5 250.7 319.8 249.5 319.7 248.4C319.6 247.3 319.1 245.9 318.5 245.4C317.9 245.0 317.0 245.1 316.0 245.7C315.1 246.3 313.8 247.8 312.7 249.0C311.5 250.2 310.0 251.6 309.3 252.9C308.5 254.2 307.6 256.2 308.0 257.1Z" fill="#82ff78"/>
<path d="M309.5 256.3C309.9 257.0 311.7 257.3 312.8 257.2C314.0 257.1 315.4 256.5 316.3 255.7C317.2 254.9 317.8 253.4 318.2 252.3C318.6 251.3 318.8 250.3 318.7 249.4C318.7 248.5 318.3 247.4 317.8 247.1C317.3 246.7 316.6 246.8 315.8 247.3C315.1 247.8 314.1 249.0 313.2 249.9C312.3 250.9 311.1 251.9 310.5 253.0C309.9 254.1 309.1 255.6 309.5 256.3Z" fill="#dcff1e"/>
<path d="M310.9 255.6C311.2 256.1 312.5 256.3 313.4 256.2C314.2 256.2 315.3 255.8 316.0 255.2C316.7 254.6 317.1 253.4 317.4 252.6C317.7 251.8 317.9 251.0 317.9 250.4C317.8 249.7 317.5 248.9 317.1 248.6C316.8 248.4 316.2 248.4 315.7 248.8C315.1 249.2 314.3 250.1 313.6 250.8C313.0 251.5 312.1 252.3 311.6 253.1C311.2 253.9 310.6 255.1 310.9 255.6Z" fill="#ffbe00"/>
<path d="M312.3 254.9C312.5 255.2 313.4 255.4 313.9 255.3C314.5 255.3 315.3 255.0 315.7 254.6C316.2 254.2 316.5 253.4 316.7 252.8C316.9 252.3 317.0 251.8 317.0 251.4C316.9 250.9 316.7 250.4 316.5 250.2C316.2 250.0 315.9 250.1 315.5 250.3C315.1 250.5 314.6 251.1 314.1 251.6C313.7 252.1 313.1 252.7 312.8 253.2C312.4 253.7 312.1 254.5 312.3 254.9Z" fill="#ff6400"/>
<path d="M313.5 254.2C313.6 254.4 314.1 254.5 314.5 254.5C314.8 254.4 315.2 254.3 315.4 254.1C315.7 253.8 315.8 253.4 316.0 253.1C316.1 252.8 316.1 252.5 316.1 252.3C316.1 252.0 316.0 251.7 315.9 251.6C315.7 251.5 315.5 251.6 315.3 251.7C315.1 251.8 314.8 252.2 314.6 252.4C314.3 252.7 314.0 253.0 313.8 253.3C313.6 253.6 313.4 254.0 313.5 254.2Z" fill="#f02800"/>
</g>
<line x1="317.6" y1="219.8" x2="317.6" y2="276.6" stroke="#d8d8f0" stroke-opacity="0.55" stroke-width="0.6"/>
<line x1="279.4" y1="258.3" x2="336.9" y2="258.3" stroke="#d8d8f0" stroke-opacity="0.55" stroke-width="0.6"/>
</g>
<text x="277.20" y="234.00" font-family="'Liberation Sans', sans-serif" font-size="9.0" fill="#111" text-anchor="end">8</text>
<text x="277.20" y="249.50" font-family="'Liberation Sans', sans-serif" font-size="9.0" fill="#111" text-anchor="end">4</text>
<text x="277.20" y="264.80" font-family="'Liberation Sans', sans-serif" font-size="9.0" fill="#111" text-anchor="end">0</text>
<text x="277.20" y="280.40" font-family="'Liberation Sans', sans-serif" font-size="9.0" fill="#111" text-anchor="end">-4</text>
<text x="288.41" y="287.60" font-family="'Liberation Sans', sans-serif" font-size="9.0" fill="#111" text-anchor="middle">-8</text>
<text x="303.51" y="287.60" font-family="'Liberation Sans', sans-serif" font-size="9.0" fill="#111" text-anchor="middle">-4</text>
<text x="319.51" y="287.60" font-family="'Liberation Sans', sans-serif" font-size="9.0" fill="#111" text-anchor="middle">0</text>
<text x="334.91" y="287.60" font-family="'Liberation Sans', sans-serif" font-size="9.0" fill="#111" text-anchor="middle">4</text>
<rect x="354.7" y="219.8" width="57.6" height="56.8" fill="#19069e"/>
<g clip-path="url(#hc4)">
<rect x="354.7" y="219.8" width="57.6" height="56.8" fill="url(#hu4)"/>
<rect x="354.7" y="219.8" width="57.6" height="56.8" fill="url(#hh4)"/>
<g filter="url(#hblur)">
<path d="M377.2 260.2C378.1 261.8 382.3 262.4 384.9 262.2C387.5 262.0 390.9 260.7 392.9 258.9C395.0 257.0 396.4 253.4 397.3 251.0C398.2 248.5 398.8 246.2 398.6 244.2C398.5 242.2 397.5 239.6 396.4 238.8C395.2 238.0 393.7 238.2 391.9 239.3C390.1 240.4 387.7 243.2 385.7 245.4C383.6 247.6 380.9 250.1 379.5 252.5C378.1 255.0 376.3 258.6 377.2 260.2Z" fill="#1632ff" fill-opacity="0.7"/>
<path d="M379.2 259.1C380.0 260.5 383.5 261.0 385.7 260.8C387.9 260.6 390.8 259.6 392.5 258.0C394.3 256.4 395.4 253.4 396.2 251.3C397.0 249.2 397.5 247.3 397.4 245.6C397.2 243.9 396.4 241.7 395.5 241.0C394.5 240.3 393.2 240.5 391.6 241.4C390.1 242.4 388.1 244.7 386.4 246.6C384.6 248.5 382.3 250.5 381.1 252.6C379.9 254.7 378.4 257.8 379.2 259.1Z" fill="#006eff"/>
<path d="M380.4 258.5C381.1 259.7 384.2 260.2 386.2 260.0C388.2 259.8 390.7 258.9 392.3 257.5C393.9 256.1 394.9 253.4 395.6 251.5C396.3 249.7 396.7 247.9 396.6 246.4C396.5 244.9 395.8 242.9 394.9 242.3C394.1 241.7 392.9 241.9 391.5 242.7C390.1 243.5 388.4 245.6 386.8 247.3C385.2 249.0 383.2 250.8 382.1 252.7C381.0 254.6 379.7 257.3 380.4 258.5Z" fill="#00beff"/>
<path d="M381.8 257.8C382.4 258.8 385.1 259.2 386.8 259.0C388.5 258.9 390.7 258.1 392.0 256.9C393.4 255.7 394.2 253.3 394.9 251.7C395.5 250.1 395.8 248.7 395.7 247.4C395.6 246.0 395.0 244.4 394.3 243.8C393.5 243.3 392.5 243.5 391.3 244.2C390.2 244.9 388.6 246.7 387.3 248.1C385.9 249.6 384.2 251.2 383.2 252.8C382.3 254.4 381.2 256.7 381.8 257.8Z" fill="#28ffd2"/>
<path d="M383.2 257.0C383.7 257.9 385.9 258.2 387.3 258.1C388.8 258.0 390.6 257.3 391.7 256.3C392.9 255.3 393.6 253.3 394.1 252.0C394.6 250.6 394.9 249.4 394.8 248.3C394.8 247.2 394.2 245.8 393.6 245.4C393.0 244.9 392.1 245.0 391.2 245.6C390.2 246.2 388.9 247.8 387.8 249.0C386.7 250.2 385.2 251.5 384.4 252.8C383.6 254.2 382.7 256.1 383.2 257.0Z" fill="#82ff78"/>
<path d="M384.7 256.2C385.0 256.9 386.8 257.2 388.0 257.1C389.1 257.0 390.5 256.5 391.4 255.7C392.3 254.8 392.9 253.3 393.3 252.2C393.7 251.2 394.0 250.2 393.9 249.3C393.8 248.5 393.4 247.3 392.9 247.0C392.4 246.6 391.8 246.7 391.0 247.2C390.2 247.7 389.2 248.9 388.3 249.8C387.4 250.8 386.2 251.9 385.6 252.9C385.0 254.0 384.3 255.5 384.7 256.2Z" fill="#dcff1e"/>
<path d="M386.0 255.5C386.3 256.0 387.7 256.2 388.5 256.1C389.4 256.1 390.5 255.7 391.2 255.0C391.8 254.4 392.3 253.3 392.6 252.5C392.9 251.7 393.1 250.9 393.0 250.3C393.0 249.6 392.6 248.8 392.3 248.5C391.9 248.2 391.4 248.3 390.8 248.7C390.2 249.0 389.5 249.9 388.8 250.7C388.1 251.4 387.2 252.2 386.8 253.0C386.3 253.8 385.7 255.0 386.0 255.5Z" fill="#ffbe00"/>
<path d="M387.4 254.7C387.6 255.1 388.5 255.2 389.1 255.2C389.7 255.1 390.4 254.9 390.9 254.4C391.3 254.0 391.6 253.2 391.8 252.7C392.0 252.2 392.2 251.7 392.1 251.2C392.1 250.8 391.9 250.2 391.6 250.0C391.4 249.9 391.0 249.9 390.6 250.2C390.3 250.4 389.7 251.0 389.3 251.5C388.8 252.0 388.2 252.5 387.9 253.1C387.6 253.6 387.2 254.4 387.4 254.7Z" fill="#ff6400"/>
<path d="M388.7 254.0C388.8 254.2 389.3 254.3 389.6 254.3C390.0 254.3 390.4 254.1 390.6 253.9C390.9 253.7 391.0 253.2 391.1 252.9C391.3 252.6 391.3 252.4 391.3 252.1C391.3 251.9 391.2 251.6 391.0 251.5C390.9 251.4 390.7 251.4 390.5 251.5C390.3 251.7 390.0 252.0 389.7 252.3C389.5 252.5 389.2 252.8 389.0 253.1C388.8 253.4 388.6 253.9 388.7 254.0Z" fill="#f02800"/>
</g>
<line x1="392.7" y1="219.8" x2="392.7" y2="276.6" stroke="#d8d8f0" stroke-opacity="0.55" stroke-width="0.6"/>
<line x1="354.7" y1="258.3" x2="412.2" y2="258.3" stroke="#d8d8f0" stroke-opacity="0.55" stroke-width="0.6"/>
</g>
<text x="352.50" y="234.00" font-family="'Liberation Sans', sans-serif" font-size="9.0" fill="#111" text-anchor="end">8</text>
<text x="352.50" y="249.50" font-family="'Liberation Sans', sans-serif" font-size="9.0" fill="#111" text-anchor="end">4</text>
<text x="352.50" y="264.80" font-family="'Liberation Sans', sans-serif" font-size="9.0" fill="#111" text-anchor="end">0</text>
<text x="352.50" y="280.40" font-family="'Liberation Sans', sans-serif" font-size="9.0" fill="#111" text-anchor="end">-4</text>
<text x="363.28" y="287.60" font-family="'Liberation Sans', sans-serif" font-size="9.0" fill="#111" text-anchor="middle">-8</text>
<text x="378.38" y="287.60" font-family="'Liberation Sans', sans-serif" font-size="9.0" fill="#111" text-anchor="middle">-4</text>
<text x="394.38" y="287.60" font-family="'Liberation Sans', sans-serif" font-size="9.0" fill="#111" text-anchor="middle">0</text>
<text x="409.78" y="287.60" font-family="'Liberation Sans', sans-serif" font-size="9.0" fill="#111" text-anchor="middle">4</text>
<rect x="429.4" y="219.8" width="57.8" height="56.8" fill="#19069e"/>
<g clip-path="url(#hc5)">
<rect x="429.4" y="219.8" width="57.8" height="56.8" fill="url(#hu5)"/>
<rect x="429.4" y="219.8" width="57.8" height="56.8" fill="url(#hh5)"/>
<g filter="url(#hblur)">
<path d="M452.1 260.2C453.0 261.8 457.2 262.4 459.8 262.2C462.4 262.0 465.8 260.7 467.8 258.9C469.9 257.0 471.2 253.4 472.2 251.0C473.1 248.5 473.7 246.2 473.5 244.2C473.4 242.2 472.4 239.6 471.3 238.8C470.2 238.0 468.6 238.2 466.8 239.3C465.0 240.4 462.6 243.2 460.6 245.4C458.5 247.6 455.8 250.1 454.4 252.5C453.0 255.0 451.2 258.6 452.1 260.2Z" fill="#1632ff" fill-opacity="0.7"/>
<path d="M454.1 259.1C454.9 260.5 458.4 261.0 460.6 260.8C462.8 260.6 465.7 259.6 467.4 258.0C469.2 256.4 470.3 253.4 471.1 251.3C471.9 249.2 472.4 247.3 472.3 245.6C472.1 243.9 471.3 241.7 470.4 241.0C469.4 240.3 468.1 240.5 466.5 241.4C465.0 242.4 463.0 244.7 461.3 246.6C459.5 248.5 457.2 250.5 456.0 252.6C454.8 254.7 453.3 257.8 454.1 259.1Z" fill="#006eff"/>
<path d="M455.3 258.5C456.0 259.7 459.1 260.2 461.1 260.0C463.1 259.8 465.6 258.9 467.2 257.5C468.8 256.1 469.8 253.4 470.5 251.5C471.2 249.7 471.6 247.9 471.5 246.4C471.4 244.9 470.7 242.9 469.8 242.3C469.0 241.7 467.8 241.9 466.4 242.7C465.1 243.5 463.3 245.6 461.7 247.3C460.1 249.0 458.1 250.8 457.0 252.7C455.9 254.6 454.6 257.3 455.3 258.5Z" fill="#00beff"/>
<path d="M456.7 257.8C457.3 258.8 460.0 259.2 461.7 259.0C463.4 258.9 465.6 258.1 466.9 256.9C468.3 255.7 469.1 253.3 469.8 251.7C470.4 250.1 470.7 248.7 470.6 247.4C470.5 246.0 469.9 244.4 469.2 243.8C468.4 243.3 467.4 243.5 466.2 244.2C465.1 244.9 463.5 246.7 462.2 248.1C460.8 249.6 459.1 251.2 458.1 252.8C457.2 254.4 456.1 256.7 456.7 257.8Z" fill="#28ffd2"/>
<path d="M458.1 257.0C458.6 257.9 460.8 258.2 462.2 258.1C463.7 258.0 465.5 257.3 466.6 256.3C467.8 255.3 468.5 253.3 469.0 252.0C469.5 250.6 469.8 249.4 469.7 248.3C469.7 247.2 469.1 245.8 468.5 245.4C467.9 244.9 467.0 245.0 466.1 245.6C465.1 246.2 463.8 247.8 462.7 249.0C461.6 250.2 460.1 251.5 459.3 252.8C458.5 254.2 457.6 256.1 458.1 257.0Z" fill="#82ff78"/>
<path d="M459.6 256.2C459.9 256.9 461.7 257.2 462.9 257.1C464.0 257.0 465.4 256.5 466.3 255.7C467.2 254.8 467.8 253.3 468.2 252.2C468.6 251.2 468.9 250.2 468.8 249.3C468.7 248.5 468.3 247.3 467.8 247.0C467.3 246.6 466.7 246.7 465.9 247.2C465.1 247.7 464.1 248.9 463.2 249.8C462.3 250.8 461.1 251.9 460.5 252.9C459.9 254.0 459.2 255.5 459.6 256.2Z" fill="#dcff1e"/>
<path d="M460.9 255.5C461.2 256.0 462.6 256.2 463.4 256.1C464.3 256.1 465.4 255.7 466.1 255.0C466.7 254.4 467.2 253.3 467.5 252.5C467.8 251.7 468.0 250.9 467.9 250.3C467.9 249.6 467.5 248.8 467.2 248.5C466.8 248.2 466.3 248.3 465.7 248.7C465.1 249.0 464.4 249.9 463.7 250.7C463.0 251.4 462.1 252.2 461.7 253.0C461.2 253.8 460.6 255.0 460.9 255.5Z" fill="#ffbe00"/>
<path d="M462.3 254.7C462.5 255.1 463.4 255.2 464.0 255.2C464.6 255.1 465.3 254.9 465.8 254.4C466.2 254.0 466.5 253.2 466.7 252.7C466.9 252.2 467.1 251.7 467.0 251.2C467.0 250.8 466.8 250.2 466.5 250.0C466.3 249.9 465.9 249.9 465.5 250.2C465.2 250.4 464.6 251.0 464.2 251.5C463.7 252.0 463.1 252.5 462.8 253.1C462.5 253.6 462.1 254.4 462.3 254.7Z" fill="#ff6400"/>
<path d="M463.6 254.0C463.7 254.2 464.2 254.3 464.5 254.3C464.9 254.3 465.3 254.1 465.5 253.9C465.8 253.7 465.9 253.2 466.0 252.9C466.2 252.6 466.2 252.4 466.2 252.1C466.2 251.9 466.1 251.6 465.9 251.5C465.8 251.4 465.6 251.4 465.4 251.5C465.2 251.7 464.9 252.0 464.6 252.3C464.4 252.5 464.1 252.8 463.9 253.1C463.7 253.4 463.5 253.9 463.6 254.0Z" fill="#f02800"/>
</g>
<line x1="467.6" y1="219.8" x2="467.6" y2="276.6" stroke="#d8d8f0" stroke-opacity="0.55" stroke-width="0.6"/>
<line x1="429.4" y1="258.3" x2="487.2" y2="258.3" stroke="#d8d8f0" stroke-opacity="0.55" stroke-width="0.6"/>
</g>
<text x="427.15" y="234.00" font-family="'Liberation Sans', sans-serif" font-size="9.0" fill="#111" text-anchor="end">8</text>
<text x="427.15" y="249.50" font-family="'Liberation Sans', sans-serif" font-size="9.0" fill="#111" text-anchor="end">4</text>
<text x="427.15" y="264.80" font-family="'Liberation Sans', sans-serif" font-size="9.0" fill="#111" text-anchor="end">0</text>
<text x="427.15" y="280.40" font-family="'Liberation Sans', sans-serif" font-size="9.0" fill="#111" text-anchor="end">-4</text>
<text x="438.15" y="287.60" font-family="'Liberation Sans', sans-serif" font-size="9.0" fill="#111" text-anchor="middle">-8</text>
<text x="453.25" y="287.60" font-family="'Liberation Sans', sans-serif" font-size="9.0" fill="#111" text-anchor="middle">-4</text>
<text x="469.25" y="287.60" font-family="'Liberation Sans', sans-serif" font-size="9.0" fill="#111" text-anchor="middle">0</text>
<text x="484.65" y="287.60" font-family="'Liberation Sans', sans-serif" font-size="9.0" fill="#111" text-anchor="middle">4</text>
<rect x="504.8" y="219.8" width="56.9" height="56.8" fill="#19069e"/>
<g clip-path="url(#hc6)">
<rect x="504.8" y="219.8" width="56.9" height="56.8" fill="url(#hu6)"/>
<rect x="504.8" y="219.8" width="56.9" height="56.8" fill="url(#hh6)"/>
<g filter="url(#hblur)">
<path d="M526.3 260.5C527.5 261.8 531.2 263.5 534.0 262.9C536.7 262.2 540.4 259.3 542.8 256.8C545.2 254.2 547.1 250.1 548.1 247.5C549.0 245.0 548.9 243.0 548.5 241.3C548.0 239.7 546.9 238.2 545.4 237.8C544.0 237.4 541.8 237.3 539.6 238.8C537.4 240.3 534.4 244.1 532.2 246.8C530.1 249.4 528.0 252.4 527.0 254.7C526.0 257.0 525.1 259.1 526.3 260.5Z" fill="#1632ff" fill-opacity="0.7"/>
<path d="M528.4 259.2C529.4 260.4 532.5 261.8 534.9 261.3C537.2 260.7 540.4 258.3 542.4 256.1C544.4 253.9 546.0 250.5 546.8 248.3C547.6 246.1 547.6 244.4 547.2 243.0C546.8 241.6 545.9 240.3 544.6 240.0C543.4 239.6 541.5 239.6 539.7 240.9C537.8 242.1 535.2 245.4 533.4 247.6C531.6 249.8 529.8 252.4 528.9 254.3C528.1 256.3 527.4 258.1 528.4 259.2Z" fill="#0064ff"/>
<path d="M529.6 258.5C530.5 259.5 533.3 260.8 535.4 260.3C537.5 259.8 540.3 257.6 542.1 255.7C543.9 253.8 545.4 250.7 546.1 248.7C546.8 246.8 546.7 245.2 546.4 244.0C546.1 242.8 545.2 241.6 544.1 241.3C543.0 241.0 541.4 241.0 539.7 242.1C538.0 243.2 535.7 246.1 534.1 248.1C532.5 250.1 530.9 252.4 530.1 254.1C529.4 255.8 528.7 257.5 529.6 258.5Z" fill="#00a5ff"/>
<path d="M531.7 257.3C532.4 258.1 534.6 259.1 536.3 258.7C538.0 258.3 540.2 256.6 541.7 255.0C543.1 253.5 544.3 251.0 544.9 249.4C545.4 247.9 545.4 246.6 545.1 245.7C544.8 244.7 544.2 243.8 543.3 243.5C542.4 243.2 541.1 243.2 539.7 244.1C538.4 245.0 536.5 247.3 535.3 248.9C534.0 250.5 532.7 252.4 532.1 253.7C531.5 255.1 531.0 256.4 531.7 257.3Z" fill="#0ae1fa"/>
<path d="M533.9 255.9C534.4 256.5 536.1 257.2 537.3 256.9C538.5 256.7 540.1 255.4 541.2 254.3C542.2 253.2 543.1 251.3 543.5 250.2C543.9 249.1 543.9 248.2 543.7 247.5C543.5 246.8 543.0 246.1 542.3 245.9C541.7 245.7 540.8 245.7 539.8 246.4C538.8 247.0 537.5 248.7 536.5 249.9C535.6 251.0 534.7 252.3 534.2 253.3C533.8 254.3 533.4 255.3 533.9 255.9Z" fill="#46ffb4"/>
<path d="M536.0 254.7C536.3 255.0 537.4 255.5 538.2 255.3C539.0 255.2 540.1 254.3 540.7 253.6C541.4 252.9 542.0 251.7 542.3 250.9C542.5 250.2 542.5 249.6 542.4 249.1C542.2 248.7 541.9 248.2 541.5 248.1C541.1 248.0 540.5 248.0 539.8 248.4C539.2 248.9 538.3 249.9 537.7 250.7C537.1 251.5 536.5 252.3 536.2 253.0C535.9 253.6 535.7 254.3 536.0 254.7Z" fill="#82ff78"/>
<path d="M537.8 253.5C538.0 253.7 538.6 254.0 539.0 253.9C539.4 253.8 540.0 253.4 540.3 253.0C540.7 252.6 541.0 252.0 541.1 251.6C541.3 251.2 541.3 250.9 541.2 250.6C541.1 250.4 541.0 250.2 540.7 250.1C540.5 250.0 540.2 250.0 539.9 250.3C539.5 250.5 539.1 251.1 538.7 251.5C538.4 251.9 538.1 252.3 537.9 252.7C537.8 253.0 537.7 253.3 537.8 253.5Z" fill="#b9ff46"/>
</g>
<line x1="542.5" y1="219.8" x2="542.5" y2="276.6" stroke="#d8d8f0" stroke-opacity="0.55" stroke-width="0.6"/>
<line x1="504.8" y1="258.3" x2="561.7" y2="258.3" stroke="#d8d8f0" stroke-opacity="0.55" stroke-width="0.6"/>
</g>
<text x="502.60" y="234.00" font-family="'Liberation Sans', sans-serif" font-size="9.0" fill="#111" text-anchor="end">8</text>
<text x="502.60" y="249.50" font-family="'Liberation Sans', sans-serif" font-size="9.0" fill="#111" text-anchor="end">4</text>
<text x="502.60" y="264.80" font-family="'Liberation Sans', sans-serif" font-size="9.0" fill="#111" text-anchor="end">0</text>
<text x="502.60" y="280.40" font-family="'Liberation Sans', sans-serif" font-size="9.0" fill="#111" text-anchor="end">-4</text>
<text x="513.02" y="287.60" font-family="'Liberation Sans', sans-serif" font-size="9.0" fill="#111" text-anchor="middle">-8</text>
<text x="528.12" y="287.60" font-family="'Liberation Sans', sans-serif" font-size="9.0" fill="#111" text-anchor="middle">-4</text>
<text x="544.12" y="287.60" font-family="'Liberation Sans', sans-serif" font-size="9.0" fill="#111" text-anchor="middle">0</text>
<text x="559.52" y="287.60" font-family="'Liberation Sans', sans-serif" font-size="9.0" fill="#111" text-anchor="middle">4</text>
<rect x="579.4" y="219.8" width="57.5" height="56.8" fill="#19069e"/>
<g clip-path="url(#hc7)">
<rect x="579.4" y="219.8" width="57.5" height="56.8" fill="url(#hu7)"/>
<rect x="579.4" y="219.8" width="57.5" height="56.8" fill="url(#hh7)"/>
<g filter="url(#hblur)">
<path d="M602.3 260.3C603.2 261.9 607.3 262.5 609.9 262.3C612.5 262.1 615.9 260.8 618.0 259.0C620.0 257.1 621.4 253.5 622.3 251.1C623.3 248.6 623.8 246.3 623.6 244.3C623.5 242.3 622.5 239.7 621.4 238.9C620.3 238.1 618.7 238.3 616.9 239.4C615.1 240.5 612.8 243.3 610.7 245.5C608.6 247.7 605.9 250.2 604.5 252.6C603.1 255.1 601.4 258.7 602.3 260.3Z" fill="#1632ff" fill-opacity="0.7"/>
<path d="M604.2 259.2C604.9 260.5 608.4 261.0 610.7 260.9C612.9 260.7 615.7 259.6 617.5 258.1C619.2 256.5 620.4 253.4 621.2 251.3C622.0 249.3 622.4 247.3 622.3 245.6C622.2 243.9 621.4 241.7 620.4 241.0C619.4 240.3 618.1 240.5 616.6 241.5C615.1 242.4 613.1 244.8 611.3 246.6C609.6 248.5 607.3 250.6 606.1 252.7C604.9 254.8 603.4 257.8 604.2 259.2Z" fill="#006eff"/>
<path d="M605.3 258.5C606.0 259.7 609.1 260.2 611.1 260.0C613.1 259.8 615.6 258.9 617.2 257.5C618.8 256.1 619.8 253.3 620.5 251.5C621.2 249.7 621.6 247.9 621.5 246.4C621.4 244.9 620.7 242.9 619.8 242.3C619.0 241.7 617.8 241.9 616.4 242.7C615.1 243.5 613.3 245.6 611.7 247.3C610.1 249.0 608.1 250.8 607.0 252.7C605.9 254.6 604.6 257.3 605.3 258.5Z" fill="#00beff"/>
<path d="M606.6 257.7C607.2 258.8 609.9 259.1 611.6 259.0C613.3 258.9 615.5 258.1 616.9 256.9C618.2 255.6 619.1 253.3 619.7 251.7C620.3 250.1 620.7 248.6 620.6 247.3C620.5 246.0 619.8 244.3 619.1 243.8C618.4 243.3 617.3 243.4 616.2 244.1C615.0 244.8 613.5 246.7 612.1 248.1C610.8 249.5 609.0 251.1 608.1 252.7C607.2 254.3 606.0 256.7 606.6 257.7Z" fill="#28ffd2"/>
<path d="M608.0 256.9C608.5 257.8 610.7 258.1 612.1 258.0C613.6 257.9 615.4 257.2 616.5 256.2C617.7 255.2 618.4 253.2 618.9 251.9C619.4 250.6 619.7 249.3 619.6 248.2C619.5 247.1 619.0 245.7 618.4 245.3C617.8 244.8 616.9 245.0 616.0 245.6C615.0 246.2 613.7 247.7 612.6 248.9C611.4 250.1 610.0 251.4 609.2 252.8C608.4 254.1 607.5 256.1 608.0 256.9Z" fill="#82ff78"/>
<path d="M609.4 256.1C609.8 256.8 611.6 257.0 612.7 256.9C613.8 256.9 615.3 256.3 616.2 255.5C617.1 254.7 617.6 253.2 618.0 252.1C618.5 251.0 618.7 250.1 618.6 249.2C618.6 248.3 618.1 247.2 617.7 246.9C617.2 246.5 616.5 246.6 615.7 247.1C614.9 247.6 613.9 248.8 613.0 249.7C612.1 250.7 611.0 251.7 610.4 252.8C609.7 253.8 609.0 255.4 609.4 256.1Z" fill="#dcff1e"/>
<path d="M610.7 255.3C611.0 255.8 612.4 256.0 613.2 256.0C614.1 255.9 615.2 255.5 615.8 254.9C616.5 254.3 616.9 253.1 617.3 252.3C617.6 251.5 617.7 250.8 617.7 250.1C617.6 249.4 617.3 248.6 617.0 248.3C616.6 248.1 616.1 248.2 615.5 248.5C614.9 248.9 614.1 249.8 613.5 250.5C612.8 251.2 611.9 252.0 611.4 252.8C611.0 253.6 610.4 254.8 610.7 255.3Z" fill="#ffbe00"/>
<path d="M612.0 254.5C612.2 254.9 613.2 255.0 613.7 255.0C614.3 254.9 615.0 254.6 615.5 254.2C616.0 253.8 616.2 253.0 616.5 252.5C616.7 252.0 616.8 251.5 616.7 251.0C616.7 250.6 616.5 250.0 616.3 249.8C616.0 249.6 615.7 249.7 615.3 249.9C614.9 250.2 614.4 250.8 613.9 251.3C613.4 251.8 612.8 252.3 612.5 252.8C612.2 253.4 611.8 254.2 612.0 254.5Z" fill="#ff6400"/>
<path d="M613.3 253.8C613.4 254.0 613.9 254.1 614.2 254.0C614.5 254.0 614.9 253.9 615.2 253.6C615.4 253.4 615.6 253.0 615.7 252.7C615.8 252.4 615.9 252.1 615.9 251.9C615.9 251.6 615.7 251.3 615.6 251.2C615.5 251.1 615.3 251.1 615.1 251.3C614.8 251.4 614.6 251.7 614.3 252.0C614.1 252.3 613.7 252.6 613.6 252.9C613.4 253.2 613.2 253.6 613.3 253.8Z" fill="#f02800"/>
</g>
<line x1="617.6" y1="219.8" x2="617.6" y2="276.6" stroke="#d8d8f0" stroke-opacity="0.55" stroke-width="0.6"/>
<line x1="579.4" y1="258.3" x2="636.9" y2="258.3" stroke="#d8d8f0" stroke-opacity="0.55" stroke-width="0.6"/>
</g>
<text x="577.20" y="234.00" font-family="'Liberation Sans', sans-serif" font-size="9.0" fill="#111" text-anchor="end">8</text>
<text x="577.20" y="249.50" font-family="'Liberation Sans', sans-serif" font-size="9.0" fill="#111" text-anchor="end">4</text>
<text x="577.20" y="264.80" font-family="'Liberation Sans', sans-serif" font-size="9.0" fill="#111" text-anchor="end">0</text>
<text x="577.20" y="280.40" font-family="'Liberation Sans', sans-serif" font-size="9.0" fill="#111" text-anchor="end">-4</text>
<text x="587.89" y="287.60" font-family="'Liberation Sans', sans-serif" font-size="9.0" fill="#111" text-anchor="middle">-8</text>
<text x="602.99" y="287.60" font-family="'Liberation Sans', sans-serif" font-size="9.0" fill="#111" text-anchor="middle">-4</text>
<text x="618.99" y="287.60" font-family="'Liberation Sans', sans-serif" font-size="9.0" fill="#111" text-anchor="middle">0</text>
<text x="634.39" y="287.60" font-family="'Liberation Sans', sans-serif" font-size="9.0" fill="#111" text-anchor="middle">4</text>
<text x="38.60" y="250.00" font-family="'Liberation Sans', sans-serif" font-size="10.5" fill="#111" text-anchor="middle" transform="rotate(-90 38.60 250.00)" font-style="italic">K<tspan font-size="6" dy="1.5">2</tspan></text>
<text x="362.30" y="303.80" font-family="'Liberation Sans', sans-serif" font-size="10.5" fill="#111" font-style="italic">K<tspan font-size="6.5" dy="1.8">1</tspan></text>
<defs><linearGradient id="cbC" x1="0" y1="0" x2="0" y2="1"><stop offset="0.000" stop-color="#800000"/><stop offset="0.062" stop-color="#bf0000"/><stop offset="0.125" stop-color="#ff0000"/><stop offset="0.188" stop-color="#ff4000"/><stop offset="0.250" stop-color="#ff8000"/><stop offset="0.312" stop-color="#ffbf00"/><stop offset="0.375" stop-color="#ffff00"/><stop offset="0.438" stop-color="#bfff40"/><stop offset="0.500" stop-color="#80ff80"/><stop offset="0.562" stop-color="#40ffbf"/><stop offset="0.625" stop-color="#00ffff"/><stop offset="0.688" stop-color="#00bfff"/><stop offset="0.750" stop-color="#0080ff"/><stop offset="0.812" stop-color="#0040ff"/><stop offset="0.875" stop-color="#0000ff"/><stop offset="0.938" stop-color="#0000bf"/><stop offset="1.000" stop-color="#000080"/></linearGradient></defs>
<rect x="642.4" y="219.8" width="7.6" height="55.5" fill="url(#cbC)"/>
<text x="651.30" y="224.00" font-family="'Liberation Sans', sans-serif" font-size="8.0" fill="#111" textLength="15.4" lengthAdjust="spacingAndGlyphs">0.06</text>
<text x="651.30" y="242.40" font-family="'Liberation Sans', sans-serif" font-size="8.0" fill="#111" textLength="15.4" lengthAdjust="spacingAndGlyphs">0.04</text>
<text x="651.30" y="260.90" font-family="'Liberation Sans', sans-serif" font-size="8.0" fill="#111" textLength="15.4" lengthAdjust="spacingAndGlyphs">0.02</text>
<text x="651.30" y="279.40" font-family="'Liberation Sans', sans-serif" font-size="8.0" fill="#111" textLength="15.4" lengthAdjust="spacingAndGlyphs">0.00</text>
<text x="682.00" y="248.30" font-family="'Liberation Sans', sans-serif" font-size="11.8" fill="#111" text-anchor="middle" textLength="55.0" lengthAdjust="spacingAndGlyphs" transform="rotate(-90 682.00 248.30)">Probability</text>
<text x="0.30" y="307.20" font-family="'Liberation Sans', sans-serif" font-size="12" fill="#111" textLength="16.0" lengthAdjust="spacingAndGlyphs">(D)</text>
<path d="M69.6 332.3V467.2H157.3V332.3" fill="none" stroke="#d4d4d4" stroke-width="0.9"/>
<polygon points="73.3,467.2 73.3,465.4 73.8,465.3 74.3,465.1 74.8,465.0 75.3,464.8 75.8,464.6 76.3,464.4 76.8,464.2 77.3,463.9 77.8,463.6 78.3,463.3 78.8,463.0 79.3,462.7 79.8,462.3 80.3,461.9 80.8,461.6 80.9,461.4 81.3,461.1 81.8,460.9 82.3,460.6 82.8,460.3 83.3,460.0 83.8,459.6 84.3,459.3 84.8,458.9 85.3,458.5 85.8,458.1 86.3,457.7 86.8,457.2 87.3,456.7 87.8,456.3 88.3,455.7 88.8,455.2 89.3,454.7 89.8,454.2 90.1,453.7 90.3,453.3 90.8,452.8 91.3,452.2 91.8,451.6 92.3,450.9 92.8,450.2 93.3,449.5 93.8,448.7 94.3,447.9 94.8,447.1 95.3,446.2 95.8,445.3 96.3,444.4 96.8,443.4 97.3,442.4 97.8,441.6 97.8,440.9 98.3,439.8 98.8,438.5 99.3,437.0 99.8,435.5 100.3,433.8 100.8,432.1 101.3,430.3 101.8,428.5 102.3,426.9 102.4,425.6 102.8,424.1 103.3,422.3 103.8,420.2 104.3,417.9 104.8,415.6 105.3,413.2 105.8,411.4 105.8,410.0 106.3,408.5 106.8,406.7 107.3,404.7 107.8,402.7 108.3,400.6 108.8,398.4 109.3,396.3 109.8,394.3 110.3,392.3 110.8,390.2 111.3,388.2 111.8,386.4 112.1,384.9 112.3,383.7 112.8,382.1 113.3,380.3 113.8,378.4 114.3,376.5 114.8,374.5 115.3,372.6 115.5,371.7 115.8,373.3 116.3,375.8 116.8,378.3 117.3,380.7 117.8,383.1 118.3,385.3 118.8,387.0 118.8,388.4 119.3,390.4 119.8,392.7 120.3,395.0 120.7,396.9 120.8,399.1 121.3,402.0 121.8,405.4 122.3,408.4 122.5,411.2 122.8,414.7 123.3,418.9 123.8,422.9 124.0,425.9 124.3,428.7 124.8,431.9 125.3,435.1 125.8,438.1 126.3,440.3 126.3,441.8 126.8,443.2 127.3,444.9 127.8,446.6 128.3,448.1 128.8,449.5 129.3,450.9 129.8,452.1 130.3,453.0 130.5,453.7 130.8,454.3 131.3,455.0 131.8,455.7 132.3,456.4 132.8,457.1 133.3,457.7 133.8,458.3 134.3,458.9 134.8,459.4 135.3,459.9 135.8,460.3 136.3,460.7 136.8,461.1 137.1,461.3 137.3,461.6 137.8,461.8 138.3,462.1 138.8,462.3 139.3,462.6 139.8,462.8 140.3,463.1 140.8,463.3 141.3,463.5 141.8,463.7 142.3,463.9 142.8,464.0 143.3,464.2 143.8,464.4 144.3,464.5 144.8,464.6 145.3,464.8 145.8,464.9 146.3,465.0 146.8,465.1 147.3,465.3 147.8,465.5 148.3,465.6 148.8,465.8 149.3,466.0 149.8,466.1 150.3,466.2 150.8,466.3 151.3,466.4 151.8,466.5 152.3,466.6 152.8,466.6 153.3,466.7 153.3,467.2" fill="#2f6a22"/>
<polygon points="73.3,467.2 73.3,466.7 73.8,466.6 74.3,466.6 74.8,466.5 75.3,466.4 75.8,466.3 76.3,466.2 76.8,466.1 77.3,466.0 77.8,465.8 78.3,465.6 78.8,465.5 79.3,465.3 79.8,465.2 80.3,465.0 80.8,464.9 81.3,464.8 81.8,464.7 82.3,464.6 82.8,464.4 83.3,464.3 83.8,464.1 84.3,464.0 84.8,463.8 85.3,463.6 85.8,463.4 86.3,463.2 86.8,463.0 87.3,462.8 87.8,462.6 88.3,462.4 88.8,462.1 89.3,461.9 89.8,461.6 90.1,461.4 90.3,461.2 90.8,460.9 91.3,460.5 91.8,460.0 92.3,459.6 92.8,459.1 93.3,458.6 93.8,458.1 94.3,457.5 94.8,456.9 95.3,456.2 95.8,455.5 96.3,454.8 96.8,454.2 97.0,453.6 97.3,453.0 97.8,452.1 98.3,451.0 98.8,449.9 99.3,448.6 99.8,447.3 100.3,445.9 100.8,444.4 101.3,442.9 101.7,441.6 101.8,440.4 102.3,438.7 102.8,436.5 103.3,434.0 103.8,431.4 104.3,428.8 104.7,426.6 104.8,424.7 105.3,422.4 105.8,419.3 106.3,416.1 106.8,413.1 107.1,410.7 107.3,408.6 107.8,406.2 108.3,403.4 108.8,400.3 109.3,396.9 109.8,393.4 110.3,390.0 110.5,386.6 110.8,382.2 111.3,377.0 111.6,372.5 111.8,369.1 112.3,365.6 112.8,361.7 113.3,357.5 113.8,353.1 114.3,348.6 114.8,343.9 115.3,339.0 115.5,336.9 115.8,340.6 116.3,346.2 116.8,351.6 117.3,356.9 117.8,361.8 118.3,366.4 118.8,370.0 118.8,373.1 119.3,377.5 119.8,382.3 120.2,386.2 120.3,389.2 120.8,392.1 121.3,395.0 121.5,397.5 121.8,400.2 122.3,403.4 122.8,407.2 123.3,411.7 123.8,417.1 124.3,422.2 124.5,426.0 124.8,429.3 125.3,432.8 125.8,436.4 126.3,439.3 126.5,441.4 126.8,443.4 127.3,445.5 127.8,447.7 128.3,449.8 128.8,451.5 129.3,452.9 129.4,453.8 129.8,454.7 130.3,455.7 130.8,456.6 131.3,457.5 131.8,458.4 132.3,459.1 132.8,459.8 133.3,460.5 133.8,461.0 134.1,461.3 134.3,461.6 134.8,461.9 135.3,462.2 135.8,462.5 136.3,462.8 136.8,463.1 137.3,463.4 137.8,463.6 138.3,463.8 138.8,464.0 139.3,464.2 139.8,464.4 140.3,464.6 140.8,464.8 141.3,464.9 141.8,465.1 142.3,465.2 142.5,465.3 142.8,465.4 143.3,465.5 143.8,465.7 144.3,465.8 144.8,465.9 145.3,466.0 145.8,466.2 146.3,466.2 146.8,466.3 147.3,466.4 147.8,466.5 148.3,466.6 148.8,466.6 149.3,466.7 149.8,466.7 150.3,466.8 150.8,466.8 151.3,466.8 151.8,466.9 152.3,466.9 152.8,466.9 153.3,466.9 153.3,467.2" fill="#e0527e"/>
<polygon points="73.3,467.2 73.3,466.7 73.8,466.6 74.3,466.6 74.8,466.5 75.3,466.4 75.8,466.3 76.3,466.2 76.8,466.1 77.3,466.0 77.8,465.8 78.3,465.6 78.8,465.5 79.3,465.3 79.8,465.2 80.3,465.0 80.8,464.9 80.9,464.8 81.3,464.7 81.8,464.6 82.3,464.4 82.8,464.3 83.3,464.1 83.8,464.0 84.3,463.8 84.8,463.6 85.3,463.4 85.8,463.2 86.3,463.0 86.8,462.8 87.3,462.6 87.8,462.4 88.3,462.1 88.8,461.9 89.3,461.6 89.8,461.4 90.1,461.2 90.3,460.9 90.8,460.5 91.3,460.0 91.8,459.6 92.3,459.1 92.8,458.6 93.3,458.1 93.8,457.5 94.3,456.9 94.8,456.2 95.3,455.5 95.8,454.8 96.3,454.2 96.8,453.6 97.3,453.0 97.8,452.1 97.8,451.0 98.3,449.9 98.8,448.6 99.3,447.3 99.8,445.9 100.3,444.4 100.8,442.9 101.3,441.6 101.8,440.4 102.3,438.7 102.4,436.5 102.8,434.0 103.3,431.4 103.8,428.8 104.3,426.6 104.8,424.7 105.3,422.4 105.8,419.3 105.8,416.1 106.3,413.1 106.8,410.7 107.3,408.6 107.8,406.2 108.3,403.4 108.8,400.3 109.3,396.9 109.8,394.3 110.3,392.3 110.8,390.2 111.3,388.2 111.8,386.4 112.1,384.9 112.3,383.7 112.8,382.1 113.3,380.3 113.8,378.4 114.3,376.5 114.8,374.5 115.3,372.6 115.5,371.7 115.8,373.3 116.3,375.8 116.8,378.3 117.3,380.7 117.8,383.1 118.3,385.3 118.8,387.0 118.8,388.4 119.3,390.4 119.8,392.7 120.3,395.0 120.7,396.9 120.8,399.1 121.3,402.0 121.8,405.4 122.3,408.4 122.5,411.2 122.8,414.7 123.3,418.9 123.8,422.9 124.0,425.9 124.3,428.7 124.8,431.9 125.3,435.1 125.8,438.1 126.3,440.3 126.3,441.8 126.8,443.2 127.3,444.9 127.8,446.6 128.3,448.1 128.8,449.8 129.3,451.5 129.8,452.9 130.3,453.8 130.5,454.7 130.8,455.7 131.3,456.6 131.8,457.5 132.3,458.4 132.8,459.1 133.3,459.8 133.8,460.5 134.3,461.0 134.8,461.3 135.3,461.6 135.8,461.9 136.3,462.2 136.8,462.5 137.1,462.8 137.3,463.1 137.8,463.4 138.3,463.6 138.8,463.8 139.3,464.0 139.8,464.2 140.3,464.4 140.8,464.6 141.3,464.8 141.8,464.9 142.3,465.1 142.8,465.2 143.3,465.3 143.8,465.4 144.3,465.5 144.8,465.7 145.3,465.8 145.8,465.9 146.3,466.0 146.8,466.2 147.3,466.2 147.8,466.3 148.3,466.4 148.8,466.5 149.3,466.6 149.8,466.6 150.3,466.7 150.8,466.7 151.3,466.8 151.8,466.8 152.3,466.8 152.8,466.9 153.3,466.9 153.3,467.2" fill="#6b1226"/>
<line x1="68.1" y1="467.2" x2="69.6" y2="467.2" stroke="#d4d4d4" stroke-width="0.7"/>
<text x="66.40" y="470.00" font-family="'Liberation Sans', sans-serif" font-size="7.9" fill="#111" text-anchor="end" textLength="15.3" lengthAdjust="spacingAndGlyphs">0.00</text>
<line x1="68.1" y1="442.2" x2="69.6" y2="442.2" stroke="#d4d4d4" stroke-width="0.7"/>
<text x="66.40" y="445.00" font-family="'Liberation Sans', sans-serif" font-size="7.9" fill="#111" text-anchor="end" textLength="15.3" lengthAdjust="spacingAndGlyphs">0.05</text>
<line x1="68.1" y1="417.2" x2="69.6" y2="417.2" stroke="#d4d4d4" stroke-width="0.7"/>
<text x="66.40" y="420.00" font-family="'Liberation Sans', sans-serif" font-size="7.9" fill="#111" text-anchor="end" textLength="15.3" lengthAdjust="spacingAndGlyphs">0.10</text>
<line x1="68.1" y1="392.2" x2="69.6" y2="392.2" stroke="#d4d4d4" stroke-width="0.7"/>
<text x="66.40" y="395.00" font-family="'Liberation Sans', sans-serif" font-size="7.9" fill="#111" text-anchor="end" textLength="15.3" lengthAdjust="spacingAndGlyphs">0.15</text>
<line x1="68.1" y1="367.2" x2="69.6" y2="367.2" stroke="#d4d4d4" stroke-width="0.7"/>
<text x="66.40" y="370.00" font-family="'Liberation Sans', sans-serif" font-size="7.9" fill="#111" text-anchor="end" textLength="15.3" lengthAdjust="spacingAndGlyphs">0.20</text>
<line x1="68.1" y1="342.2" x2="69.6" y2="342.2" stroke="#d4d4d4" stroke-width="0.7"/>
<text x="66.40" y="345.00" font-family="'Liberation Sans', sans-serif" font-size="7.9" fill="#111" text-anchor="end" textLength="15.3" lengthAdjust="spacingAndGlyphs">0.25</text>
<text x="72.90" y="476.40" font-family="'Liberation Sans', sans-serif" font-size="7.9" fill="#111" text-anchor="middle">-10</text>
<text x="93.20" y="476.40" font-family="'Liberation Sans', sans-serif" font-size="7.9" fill="#111" text-anchor="middle">-5</text>
<text x="113.60" y="476.40" font-family="'Liberation Sans', sans-serif" font-size="7.9" fill="#111" text-anchor="middle">0</text>
<text x="133.20" y="476.40" font-family="'Liberation Sans', sans-serif" font-size="7.9" fill="#111" text-anchor="middle">5</text>
<text x="151.50" y="476.40" font-family="'Liberation Sans', sans-serif" font-size="7.9" fill="#111" text-anchor="middle">10</text>
<text x="44.70" y="407.00" font-family="'Liberation Sans', sans-serif" font-size="8.8" fill="#111" text-anchor="middle" textLength="41.5" lengthAdjust="spacingAndGlyphs" transform="rotate(-90 44.70 407.00)">Probability</text>
<text x="71.10" y="484.20" font-family="'Liberation Sans', sans-serif" font-size="8.6" fill="#111" textLength="94.7" lengthAdjust="spacingAndGlyphs">Mean curvature H (nm<tspan font-size="5.6" dy="-3">-1</tspan><tspan dy="3">)</tspan></text>
<rect x="70.1" y="308.7" width="5.2" height="5.0" fill="#2a6420"/>
<rect x="70.1" y="322.4" width="5.2" height="5.2" fill="#e0527e"/>
<text x="79.90" y="315.30" font-family="'Liberation Sans', sans-serif" font-size="12" fill="#111" textLength="69.6" lengthAdjust="spacingAndGlyphs">1 min, point c</text>
<text x="79.90" y="329.30" font-family="'Liberation Sans', sans-serif" font-size="12" fill="#111" textLength="77.1" lengthAdjust="spacingAndGlyphs">83 min, point d</text>
<line x1="100.0" y1="335.8" x2="116.5" y2="335.8" stroke="#e8457c" stroke-width="1.2" stroke-dasharray="3.1 1.0"/>
<line x1="99.0" y1="371.4" x2="115.8" y2="371.4" stroke="#2a6420" stroke-width="1.2" stroke-dasharray="3.1 1.0"/>
<path d="M103.0 349.1H105.8V356.2H107.1L104.4 359.5L101.7 356.2H103.0Z" fill="#4db8ee"/>
<path d="M244.4 332.3V467.2H331.8V332.3" fill="none" stroke="#d4d4d4" stroke-width="0.9"/>
<polygon points="247.9,467.2 247.9,457.7 248.4,457.4 248.9,457.3 249.4,457.0 249.9,456.8 250.3,457.1 250.4,457.0 250.9,456.3 251.4,456.4 251.9,456.2 252.4,455.5 252.8,455.6 253.3,455.1 253.8,455.1 254.3,454.7 254.8,454.8 255.3,454.2 255.8,453.7 256.3,453.8 256.4,453.4 256.8,453.3 257.3,453.6 257.8,452.7 258.3,452.6 258.8,452.5 259.3,452.5 259.8,451.5 260.3,451.5 260.8,451.0 261.3,450.5 261.8,450.4 262.3,449.9 262.8,450.1 263.2,449.3 263.7,449.4 264.1,448.6 264.2,448.4 264.7,448.9 265.2,448.4 265.7,447.8 266.2,446.4 266.7,446.5 267.2,445.8 267.7,445.6 268.2,444.8 268.7,444.4 269.2,443.8 269.7,442.9 270.2,442.3 270.7,441.2 271.0,441.1 271.2,440.1 271.7,439.4 272.2,438.1 272.6,437.6 273.1,437.4 273.6,434.9 274.1,433.5 274.6,432.3 275.1,431.7 275.6,430.1 276.1,429.8 276.6,427.0 277.1,426.4 277.2,426.0 277.6,425.2 278.1,421.3 278.6,418.8 279.1,419.1 279.6,414.7 280.1,413.6 280.6,412.5 280.6,410.4 281.1,406.6 281.6,403.4 282.1,403.5 282.6,398.2 283.0,398.1 283.1,393.8 283.5,394.3 284.0,390.5 284.5,388.6 285.0,389.3 285.5,385.4 286.0,387.2 286.3,387.4 286.5,385.2 287.0,389.0 287.5,389.1 288.0,389.0 288.5,388.9 288.7,391.8 289.0,393.6 289.5,391.8 290.0,396.1 290.0,396.2 290.5,400.8 291.0,407.5 291.1,410.9 291.5,413.9 292.0,417.1 292.4,420.7 292.9,423.7 293.1,425.7 293.4,427.0 293.9,430.3 294.4,432.8 294.9,434.5 295.4,437.6 295.9,439.3 296.4,439.7 296.5,441.4 296.9,442.3 297.4,444.1 297.9,444.5 298.4,445.3 298.9,447.0 299.4,447.2 299.9,448.0 300.4,449.4 300.9,449.3 301.4,450.0 301.9,450.2 302.4,450.9 302.8,451.0 303.3,451.4 303.8,452.4 304.3,452.8 304.8,452.6 305.3,452.7 305.8,453.7 306.3,453.8 306.8,454.1 307.3,454.6 307.8,454.9 308.3,455.2 308.8,455.5 309.3,455.6 309.8,456.1 310.3,456.3 310.8,456.3 311.2,457.0 311.3,456.8 311.8,456.9 312.2,457.4 312.7,457.6 313.2,457.5 313.7,458.0 314.2,458.3 314.7,458.3 315.2,458.4 315.7,458.9 316.2,459.0 316.7,459.1 317.2,459.1 317.7,459.4 318.2,459.4 318.7,459.9 319.2,460.0 319.7,460.0 320.2,460.1 320.7,460.4 321.2,460.6 321.7,460.8 322.1,460.8 322.6,461.1 323.1,461.0 323.6,461.1 324.1,461.4 324.3,461.5 324.6,461.3 325.1,461.4 325.6,461.4 326.1,461.6 326.6,461.8 327.1,461.7 327.1,467.2" fill="#2f6a22"/>
<polygon points="247.9,467.2 247.9,462.6 248.4,462.4 248.9,462.2 249.4,461.9 249.9,461.7 250.3,461.5 250.4,461.3 250.9,461.3 251.4,461.1 251.9,460.8 252.4,460.6 252.8,460.4 253.3,460.3 253.8,460.0 254.3,459.9 254.8,459.8 255.3,459.5 255.8,459.3 256.3,459.1 256.8,458.9 257.3,458.7 257.8,458.5 258.3,458.3 258.8,458.1 259.3,457.7 259.8,457.5 260.3,457.1 260.8,457.1 261.0,456.6 261.3,456.4 261.8,456.1 262.3,455.7 262.8,455.3 263.2,455.1 263.7,454.9 264.2,454.2 264.7,454.0 265.2,453.5 265.7,452.9 266.2,452.5 266.7,452.1 267.2,451.3 267.7,451.0 268.2,450.6 268.7,450.1 269.2,449.3 269.5,449.0 269.7,448.3 270.2,447.9 270.7,447.1 271.2,446.0 271.7,444.8 272.2,444.2 272.6,442.7 273.1,441.7 273.4,441.0 273.6,440.1 274.1,439.6 274.6,437.6 275.1,435.9 275.6,435.1 276.1,433.2 276.6,431.5 277.1,429.4 277.6,427.8 278.0,426.3 278.1,424.5 278.6,423.7 279.1,421.5 279.6,419.0 280.1,416.4 280.6,414.0 281.0,410.4 281.1,408.8 281.6,407.9 282.1,404.2 282.6,401.6 282.9,399.1 283.0,396.3 283.5,392.1 284.0,388.2 284.3,385.0 284.5,381.7 285.0,375.4 285.5,369.0 286.0,360.3 286.1,357.3 286.5,350.8 287.0,342.2 287.2,337.0 287.5,343.3 288.0,353.3 288.2,358.5 288.5,370.4 288.9,381.6 289.0,385.5 289.5,391.0 290.0,395.4 290.2,398.1 290.5,400.5 291.0,404.3 291.5,406.9 291.9,409.9 292.0,412.6 292.4,414.9 292.9,417.9 293.4,421.8 293.9,423.9 294.2,426.0 294.4,427.4 294.9,429.7 295.4,432.9 295.9,434.9 296.4,437.3 296.9,439.7 297.3,440.9 297.4,442.2 297.9,442.8 298.4,444.1 298.9,445.1 299.4,446.3 299.9,447.5 300.4,448.3 300.6,449.0 300.9,449.7 301.4,449.9 301.9,450.8 302.4,451.2 302.8,451.5 303.3,452.3 303.8,452.8 304.3,453.2 304.8,453.4 305.3,454.1 305.8,454.6 306.3,454.7 306.8,455.3 307.3,455.5 307.8,455.9 308.3,456.2 308.8,456.4 308.9,456.8 309.3,456.9 309.8,457.4 310.3,457.4 310.8,457.8 311.3,458.0 311.8,458.4 312.2,458.5 312.7,458.6 313.2,459.1 313.7,459.2 314.2,459.4 314.7,459.6 315.2,459.9 315.7,460.1 316.2,460.3 316.7,460.4 317.2,460.5 317.7,460.8 318.2,461.0 318.7,461.1 319.2,461.3 319.6,461.4 319.7,461.6 320.2,461.6 320.7,461.7 321.2,462.0 321.7,462.1 322.1,462.4 322.6,462.5 323.1,462.6 323.6,462.8 324.1,462.9 324.6,463.1 325.1,463.2 325.6,463.3 326.1,463.5 326.6,463.6 327.1,463.7 327.1,467.2" fill="#e0527e"/>
<polygon points="247.9,467.2 247.9,462.6 248.4,462.4 248.9,462.2 249.4,461.9 249.9,461.7 250.3,461.5 250.4,461.3 250.9,461.3 251.4,461.1 251.9,460.8 252.4,460.6 252.8,460.4 253.3,460.3 253.8,460.0 254.3,459.9 254.8,459.8 255.3,459.5 255.8,459.3 256.3,459.1 256.4,458.9 256.8,458.7 257.3,458.5 257.8,458.3 258.3,458.1 258.8,457.7 259.3,457.5 259.8,457.1 260.3,457.1 260.8,456.6 261.3,456.4 261.8,456.1 262.3,455.7 262.8,455.3 263.2,455.1 263.7,454.9 264.1,454.2 264.2,454.0 264.7,453.5 265.2,452.9 265.7,452.5 266.2,452.1 266.7,451.3 267.2,451.0 267.7,450.6 268.2,450.1 268.7,449.3 269.2,449.0 269.7,448.3 270.2,447.9 270.7,447.1 271.0,446.0 271.2,444.8 271.7,444.2 272.2,442.7 272.6,441.7 273.1,441.0 273.6,440.1 274.1,439.6 274.6,437.6 275.1,435.9 275.6,435.1 276.1,433.2 276.6,431.5 277.1,429.4 277.2,427.8 277.6,426.3 278.1,424.5 278.6,423.7 279.1,421.5 279.6,419.0 280.1,416.4 280.6,414.0 280.6,410.4 281.1,408.8 281.6,407.9 282.1,404.2 282.6,401.6 283.0,399.1 283.1,396.3 283.5,394.3 284.0,390.5 284.5,388.6 285.0,389.3 285.5,385.4 286.0,387.2 286.3,387.4 286.5,385.2 287.0,389.0 287.5,389.1 288.0,389.0 288.5,388.9 288.7,391.8 289.0,393.6 289.5,391.8 290.0,396.1 290.0,396.2 290.5,400.8 291.0,407.5 291.1,410.9 291.5,413.9 292.0,417.1 292.4,420.7 292.9,423.7 293.1,425.7 293.4,427.0 293.9,430.3 294.4,432.8 294.9,434.5 295.4,437.6 295.9,439.3 296.4,439.7 296.5,441.4 296.9,442.3 297.4,444.1 297.9,444.5 298.4,445.3 298.9,447.0 299.4,447.2 299.9,448.0 300.4,449.4 300.9,449.3 301.4,450.0 301.9,450.2 302.4,450.9 302.8,451.0 303.3,451.4 303.8,452.4 304.3,452.8 304.8,452.6 305.3,452.7 305.8,453.7 306.3,453.8 306.8,454.1 307.3,454.6 307.8,454.9 308.3,455.2 308.8,455.5 309.3,455.6 309.8,456.1 310.3,456.3 310.8,456.4 311.2,457.0 311.3,456.9 311.8,457.4 312.2,457.4 312.7,457.8 313.2,458.0 313.7,458.4 314.2,458.5 314.7,458.6 315.2,459.1 315.7,459.2 316.2,459.4 316.7,459.6 317.2,459.9 317.7,460.1 318.2,460.3 318.7,460.4 319.2,460.5 319.7,460.8 320.2,461.0 320.7,461.1 321.2,461.3 321.7,461.4 322.1,461.6 322.6,461.6 323.1,461.7 323.6,462.0 324.1,462.1 324.3,462.4 324.6,462.5 325.1,462.6 325.6,462.8 326.1,462.9 326.6,463.1 327.1,463.2 327.1,467.2" fill="#6b1226"/>
<line x1="242.9" y1="467.2" x2="244.4" y2="467.2" stroke="#d4d4d4" stroke-width="0.7"/>
<text x="241.20" y="470.00" font-family="'Liberation Sans', sans-serif" font-size="7.9" fill="#111" text-anchor="end" textLength="15.3" lengthAdjust="spacingAndGlyphs">0.00</text>
<line x1="242.9" y1="444.2" x2="244.4" y2="444.2" stroke="#d4d4d4" stroke-width="0.7"/>
<text x="241.20" y="447.00" font-family="'Liberation Sans', sans-serif" font-size="7.9" fill="#111" text-anchor="end" textLength="15.3" lengthAdjust="spacingAndGlyphs">0.05</text>
<line x1="242.9" y1="421.2" x2="244.4" y2="421.2" stroke="#d4d4d4" stroke-width="0.7"/>
<text x="241.20" y="424.00" font-family="'Liberation Sans', sans-serif" font-size="7.9" fill="#111" text-anchor="end" textLength="15.3" lengthAdjust="spacingAndGlyphs">0.10</text>
<line x1="242.9" y1="398.2" x2="244.4" y2="398.2" stroke="#d4d4d4" stroke-width="0.7"/>
<text x="241.20" y="401.00" font-family="'Liberation Sans', sans-serif" font-size="7.9" fill="#111" text-anchor="end" textLength="15.3" lengthAdjust="spacingAndGlyphs">0.15</text>
<line x1="242.9" y1="375.2" x2="244.4" y2="375.2" stroke="#d4d4d4" stroke-width="0.7"/>
<text x="241.20" y="378.00" font-family="'Liberation Sans', sans-serif" font-size="7.9" fill="#111" text-anchor="end" textLength="15.3" lengthAdjust="spacingAndGlyphs">0.20</text>
<line x1="242.9" y1="352.2" x2="244.4" y2="352.2" stroke="#d4d4d4" stroke-width="0.7"/>
<text x="241.20" y="355.00" font-family="'Liberation Sans', sans-serif" font-size="7.9" fill="#111" text-anchor="end" textLength="15.3" lengthAdjust="spacingAndGlyphs">0.25</text>
<line x1="242.9" y1="329.2" x2="244.4" y2="329.2" stroke="#d4d4d4" stroke-width="0.7"/>
<text x="241.20" y="332.00" font-family="'Liberation Sans', sans-serif" font-size="7.9" fill="#111" text-anchor="end" textLength="15.3" lengthAdjust="spacingAndGlyphs">0.30</text>
<text x="246.60" y="476.40" font-family="'Liberation Sans', sans-serif" font-size="7.9" fill="#111" text-anchor="middle">-10</text>
<text x="266.70" y="476.40" font-family="'Liberation Sans', sans-serif" font-size="7.9" fill="#111" text-anchor="middle">-5</text>
<text x="287.60" y="476.40" font-family="'Liberation Sans', sans-serif" font-size="7.9" fill="#111" text-anchor="middle">0</text>
<text x="307.20" y="476.40" font-family="'Liberation Sans', sans-serif" font-size="7.9" fill="#111" text-anchor="middle">5</text>
<text x="325.80" y="476.40" font-family="'Liberation Sans', sans-serif" font-size="7.9" fill="#111" text-anchor="middle">10</text>
<text x="213.00" y="407.00" font-family="'Liberation Sans', sans-serif" font-size="8.8" fill="#111" text-anchor="middle" textLength="41.5" lengthAdjust="spacingAndGlyphs" transform="rotate(-90 213.00 407.00)">Probability</text>
<text x="236.80" y="484.20" font-family="'Liberation Sans', sans-serif" font-size="8.6" fill="#111" textLength="107.8" lengthAdjust="spacingAndGlyphs">Gaussian curvature H (nm<tspan font-size="5.6" dy="-3">-1</tspan><tspan dy="3">)</tspan></text>
<rect x="244.7" y="308.7" width="5.2" height="5.0" fill="#2a6420"/>
<rect x="244.7" y="322.4" width="5.2" height="5.2" fill="#e0527e"/>
<text x="254.50" y="315.30" font-family="'Liberation Sans', sans-serif" font-size="12" fill="#111" textLength="69.6" lengthAdjust="spacingAndGlyphs">1 min, point c</text>
<text x="254.50" y="329.30" font-family="'Liberation Sans', sans-serif" font-size="12" fill="#111" textLength="77.1" lengthAdjust="spacingAndGlyphs">83 min, point d</text>
<line x1="270.9" y1="335.5" x2="287.9" y2="335.5" stroke="#e8457c" stroke-width="1.2" stroke-dasharray="3.1 1.0"/>
<line x1="270.2" y1="385.0" x2="286.8" y2="385.0" stroke="#2a6420" stroke-width="1.2" stroke-dasharray="3.1 1.0"/>
<path d="M276.0 355.9H278.8V363.0H280.1L277.4 366.3L274.7 363.0H276.0Z" fill="#4db8ee"/>
<path d="M408.6 332.3V467.2H495.8V332.3" fill="none" stroke="#d4d4d4" stroke-width="0.9"/>
<polygon points="413.4,467.2 413.4,464.8 413.9,464.6 414.4,464.5 414.9,464.3 415.4,464.2 415.9,464.0 416.4,463.8 416.9,463.6 417.4,463.4 417.9,463.2 418.4,462.9 418.9,462.7 419.4,462.4 419.9,462.2 420.4,461.9 420.9,461.6 421.1,461.4 421.4,461.2 421.9,460.9 422.3,460.6 422.8,460.3 423.3,460.0 423.8,459.6 424.3,459.2 424.8,458.8 425.3,458.4 425.8,458.0 426.3,457.5 426.8,457.0 427.3,456.5 427.8,456.0 428.3,455.4 428.8,454.8 429.3,454.3 429.7,453.8 429.8,453.4 430.3,452.9 430.8,452.2 431.2,451.5 431.7,450.7 432.2,450.0 432.7,449.1 433.2,448.3 433.7,447.4 434.2,446.4 434.7,445.4 435.2,444.4 435.7,443.3 436.2,442.3 436.5,441.4 436.7,440.6 437.2,439.5 437.7,438.1 438.2,436.7 438.7,435.1 439.2,433.4 439.7,431.7 440.1,429.9 440.6,428.1 441.1,426.6 441.2,425.4 441.6,424.0 442.1,422.2 442.6,420.2 443.1,418.0 443.6,415.8 444.1,413.6 444.6,411.7 444.7,410.2 445.1,408.6 445.6,406.7 446.1,404.4 446.6,402.1 447.1,399.8 447.6,397.8 447.6,395.7 448.1,392.9 448.6,389.0 449.0,384.7 449.5,380.2 450.0,376.2 450.2,373.4 450.5,371.0 451.0,368.3 451.5,365.2 452.0,362.0 452.5,358.6 453.0,355.2 453.4,352.3 453.5,352.9 454.0,355.6 454.5,358.2 455.0,360.8 455.5,363.3 456.0,365.7 456.5,368.1 457.0,370.3 457.4,372.2 457.5,374.3 457.9,377.2 458.4,381.0 458.9,385.0 459.4,388.8 459.9,392.4 460.4,395.4 460.5,398.6 460.9,402.9 461.4,407.4 461.5,411.1 461.9,414.7 462.4,418.6 462.9,422.3 463.3,425.1 463.4,427.5 463.9,430.1 464.4,433.1 464.9,435.9 465.4,438.5 465.9,440.4 465.9,441.8 466.3,443.2 466.8,444.9 467.3,446.5 467.8,448.1 468.3,449.5 468.8,450.8 469.3,452.0 469.8,453.0 470.0,453.7 470.3,454.4 470.8,455.1 471.3,455.9 471.8,456.7 472.3,457.4 472.8,458.1 473.3,458.7 473.8,459.3 474.3,459.8 474.8,460.3 475.2,460.8 475.7,461.1 475.9,461.4 476.2,461.6 476.7,461.9 477.2,462.2 477.7,462.5 478.2,462.8 478.7,463.0 479.2,463.3 479.7,463.5 480.2,463.7 480.7,463.9 481.2,464.1 481.7,464.3 482.2,464.4 482.7,464.6 483.2,464.7 483.7,464.9 484.1,465.0 484.6,465.1 485.0,465.2 485.1,465.3 485.6,465.4 486.1,465.6 486.6,465.7 487.1,465.9 487.6,466.0 488.1,466.1 488.6,466.2 489.1,466.3 489.6,466.4 490.1,466.5 490.6,466.5 491.1,466.6 491.6,466.7 492.1,466.7 492.6,466.7 492.6,467.2" fill="#23417c"/>
<polygon points="413.4,467.2 413.4,464.5 413.9,464.3 414.4,464.2 414.9,464.0 415.4,463.9 415.9,463.7 416.4,463.5 416.9,463.3 417.4,463.1 417.9,462.8 418.4,462.6 418.9,462.4 419.4,462.1 419.9,461.8 420.4,461.6 420.6,461.4 420.9,461.2 421.4,460.9 421.9,460.6 422.3,460.3 422.8,459.9 423.3,459.6 423.8,459.2 424.3,458.8 424.8,458.3 425.3,457.9 425.8,457.4 426.3,456.9 426.8,456.4 427.3,455.9 427.8,455.3 428.3,454.7 428.8,454.2 429.1,453.7 429.3,453.3 429.8,452.7 430.3,452.1 430.8,451.4 431.2,450.6 431.7,449.8 432.2,449.0 432.7,448.1 433.2,447.2 433.7,446.3 434.2,445.3 434.7,444.2 435.2,443.2 435.7,442.2 436.0,441.4 436.2,440.5 436.7,439.4 437.2,438.1 437.7,436.6 438.2,435.1 438.7,433.5 439.2,431.8 439.7,430.0 440.1,428.3 440.6,426.8 440.7,425.5 441.1,424.2 441.6,422.4 442.1,420.4 442.6,418.3 443.1,416.1 443.6,413.9 444.1,411.9 444.3,410.4 444.6,408.9 445.1,407.0 445.6,404.9 446.1,402.6 446.6,400.3 447.1,398.3 447.3,396.3 447.6,393.8 448.1,390.3 448.6,386.1 449.0,381.7 449.5,377.5 449.9,373.9 450.0,370.8 450.5,366.5 451.0,361.3 451.5,356.0 451.8,352.5 452.0,349.9 452.5,345.6 453.0,341.0 453.2,338.9 453.5,341.4 454.0,345.2 454.5,348.9 454.9,351.9 455.0,353.3 455.5,357.1 456.0,361.0 456.5,364.9 457.0,368.6 457.4,371.5 457.5,374.2 457.9,377.4 458.4,381.5 458.9,385.7 459.4,389.8 459.9,393.4 460.3,396.6 460.4,400.3 460.9,404.9 461.3,409.3 461.4,413.2 461.9,417.3 462.4,421.6 462.8,424.9 462.9,427.8 463.4,431.0 463.9,434.7 464.4,438.0 464.8,440.4 464.9,442.1 465.4,443.9 465.9,445.9 466.3,447.8 466.8,449.6 467.3,451.2 467.8,452.5 468.2,453.5 468.3,454.3 468.8,455.2 469.3,456.2 469.8,457.1 470.3,458.0 470.8,458.8 471.3,459.5 471.8,460.2 472.3,460.8 472.8,461.3 473.3,461.8 473.8,462.1 474.3,462.5 474.8,462.8 475.2,463.1 475.7,463.3 476.2,463.6 476.7,463.8 477.2,464.0 477.7,464.2 478.2,464.4 478.7,464.6 479.2,464.8 479.7,464.9 480.2,465.1 480.7,465.2 481.2,465.4 481.7,465.5 482.2,465.7 482.7,465.8 483.2,465.9 483.7,466.0 484.1,466.1 484.6,466.2 485.1,466.3 485.6,466.4 486.1,466.5 486.6,466.5 487.1,466.6 487.6,466.6 488.1,466.7 488.6,466.7 489.1,466.8 489.6,466.8 490.1,466.8 490.6,466.9 491.1,466.9 491.6,466.9 492.1,467.0 492.6,467.0 492.6,467.2" fill="#dc9b52"/>
<polygon points="413.4,467.2 413.4,464.8 413.9,464.6 414.4,464.5 414.9,464.3 415.4,464.2 415.9,464.0 416.4,463.8 416.9,463.6 417.4,463.4 417.9,463.2 418.4,462.9 418.9,462.7 419.4,462.4 419.9,462.2 420.4,461.9 420.9,461.6 421.1,461.4 421.4,461.2 421.9,460.9 422.3,460.6 422.8,460.3 423.3,460.0 423.8,459.6 424.3,459.2 424.8,458.8 425.3,458.4 425.8,458.0 426.3,457.5 426.8,457.0 427.3,456.5 427.8,456.0 428.3,455.4 428.8,454.8 429.3,454.3 429.7,453.8 429.8,453.4 430.3,452.9 430.8,452.2 431.2,451.5 431.7,450.7 432.2,450.0 432.7,449.1 433.2,448.3 433.7,447.4 434.2,446.4 434.7,445.4 435.2,444.4 435.7,443.3 436.2,442.3 436.5,441.4 436.7,440.6 437.2,439.5 437.7,438.1 438.2,436.7 438.7,435.1 439.2,433.4 439.7,431.7 440.1,429.9 440.6,428.1 441.1,426.6 441.2,425.4 441.6,424.0 442.1,422.2 442.6,420.2 443.1,418.0 443.6,415.8 444.1,413.6 444.6,411.7 444.7,410.2 445.1,408.6 445.6,406.7 446.1,404.4 446.6,402.1 447.1,399.8 447.6,397.8 447.6,395.7 448.1,392.9 448.6,389.0 449.0,384.7 449.5,380.2 450.0,376.2 450.2,373.4 450.5,371.0 451.0,368.3 451.5,365.2 452.0,362.0 452.5,358.6 453.0,355.2 453.4,352.3 453.5,352.9 454.0,355.6 454.5,358.2 455.0,360.8 455.5,363.3 456.0,365.7 456.5,368.1 457.0,370.3 457.4,372.2 457.5,374.3 457.9,377.2 458.4,381.0 458.9,385.0 459.4,388.8 459.9,392.4 460.4,395.4 460.5,398.6 460.9,402.9 461.4,407.4 461.5,411.1 461.9,414.7 462.4,418.6 462.9,422.3 463.3,425.1 463.4,427.5 463.9,430.1 464.4,433.1 464.9,435.9 465.4,438.5 465.9,440.4 465.9,442.1 466.3,443.9 466.8,445.9 467.3,447.8 467.8,449.6 468.3,451.2 468.8,452.5 469.3,453.5 469.8,454.3 470.0,455.2 470.3,456.2 470.8,457.1 471.3,458.0 471.8,458.8 472.3,459.5 472.8,460.2 473.3,460.8 473.8,461.3 474.3,461.8 474.8,462.1 475.2,462.5 475.7,462.8 475.9,463.1 476.2,463.3 476.7,463.6 477.2,463.8 477.7,464.0 478.2,464.2 478.7,464.4 479.2,464.6 479.7,464.8 480.2,464.9 480.7,465.1 481.2,465.2 481.7,465.4 482.2,465.5 482.7,465.7 483.2,465.8 483.7,465.9 484.1,466.0 484.6,466.1 485.0,466.2 485.1,466.3 485.6,466.4 486.1,466.5 486.6,466.5 487.1,466.6 487.6,466.6 488.1,466.7 488.6,466.7 489.1,466.8 489.6,466.8 490.1,466.8 490.6,466.9 491.1,466.9 491.6,466.9 492.1,467.0 492.6,467.0 492.6,467.2" fill="#77591a"/>
<line x1="407.1" y1="467.2" x2="408.6" y2="467.2" stroke="#d4d4d4" stroke-width="0.7"/>
<text x="405.40" y="470.00" font-family="'Liberation Sans', sans-serif" font-size="7.9" fill="#111" text-anchor="end" textLength="15.3" lengthAdjust="spacingAndGlyphs">0.00</text>
<line x1="407.1" y1="439.1" x2="408.6" y2="439.1" stroke="#d4d4d4" stroke-width="0.7"/>
<text x="405.40" y="441.85" font-family="'Liberation Sans', sans-serif" font-size="7.9" fill="#111" text-anchor="end" textLength="15.3" lengthAdjust="spacingAndGlyphs">0.05</text>
<line x1="407.1" y1="410.9" x2="408.6" y2="410.9" stroke="#d4d4d4" stroke-width="0.7"/>
<text x="405.40" y="413.70" font-family="'Liberation Sans', sans-serif" font-size="7.9" fill="#111" text-anchor="end" textLength="15.3" lengthAdjust="spacingAndGlyphs">0.10</text>
<line x1="407.1" y1="382.8" x2="408.6" y2="382.8" stroke="#d4d4d4" stroke-width="0.7"/>
<text x="405.40" y="385.55" font-family="'Liberation Sans', sans-serif" font-size="7.9" fill="#111" text-anchor="end" textLength="15.3" lengthAdjust="spacingAndGlyphs">0.15</text>
<line x1="407.1" y1="354.6" x2="408.6" y2="354.6" stroke="#d4d4d4" stroke-width="0.7"/>
<text x="405.40" y="357.40" font-family="'Liberation Sans', sans-serif" font-size="7.9" fill="#111" text-anchor="end" textLength="15.3" lengthAdjust="spacingAndGlyphs">0.20</text>
<text x="412.60" y="476.40" font-family="'Liberation Sans', sans-serif" font-size="7.9" fill="#111" text-anchor="middle">-10</text>
<text x="432.40" y="476.40" font-family="'Liberation Sans', sans-serif" font-size="7.9" fill="#111" text-anchor="middle">-5</text>
<text x="453.00" y="476.40" font-family="'Liberation Sans', sans-serif" font-size="7.9" fill="#111" text-anchor="middle">0</text>
<text x="472.40" y="476.40" font-family="'Liberation Sans', sans-serif" font-size="7.9" fill="#111" text-anchor="middle">5</text>
<text x="491.70" y="476.40" font-family="'Liberation Sans', sans-serif" font-size="7.9" fill="#111" text-anchor="middle">10</text>
<text x="382.30" y="407.00" font-family="'Liberation Sans', sans-serif" font-size="8.8" fill="#111" text-anchor="middle" textLength="41.5" lengthAdjust="spacingAndGlyphs" transform="rotate(-90 382.30 407.00)">Probability</text>
<text x="409.80" y="484.20" font-family="'Liberation Sans', sans-serif" font-size="8.6" fill="#111" textLength="95.0" lengthAdjust="spacingAndGlyphs">Mean curvature H (nm<tspan font-size="5.6" dy="-3">-1</tspan><tspan dy="3">)</tspan></text>
<rect x="409.2" y="308.7" width="5.2" height="5.0" fill="#23417c"/>
<rect x="409.2" y="322.4" width="5.2" height="5.2" fill="#dc9b52"/>
<text x="419.00" y="315.30" font-family="'Liberation Sans', sans-serif" font-size="12" fill="#111" textLength="70.8" lengthAdjust="spacingAndGlyphs">1 min, point g</text>
<text x="419.00" y="329.30" font-family="'Liberation Sans', sans-serif" font-size="12" fill="#111" textLength="77.4" lengthAdjust="spacingAndGlyphs">22 min, point h</text>
<line x1="435.7" y1="338.9" x2="453.2" y2="338.9" stroke="#e09a4e" stroke-width="1.2" stroke-dasharray="3.1 1.0"/>
<line x1="434.5" y1="352.6" x2="451.8" y2="352.6" stroke="#23417c" stroke-width="1.2" stroke-dasharray="3.1 1.0"/>
<path d="M442.9 341.2H445.7V348.0H447.0L444.3 351.3L441.6 348.0H442.9Z" fill="#4db8ee"/>
<path d="M575.3 332.3V467.2H663.0V332.3" fill="none" stroke="#d4d4d4" stroke-width="0.9"/>
<polygon points="580.1,467.2 580.1,460.3 580.6,460.1 581.1,459.9 581.3,459.6 581.6,459.6 582.1,459.4 582.6,459.2 583.1,458.9 583.5,458.8 584.0,458.6 584.5,458.2 585.0,457.9 585.5,457.9 586.0,457.5 586.5,457.4 587.0,456.9 587.5,456.8 587.6,456.8 588.0,456.6 588.5,456.5 589.0,456.1 589.4,455.8 589.9,455.7 590.4,455.3 590.9,455.1 591.4,454.5 591.9,454.6 592.4,453.8 592.9,453.8 593.4,453.4 593.9,453.2 594.4,452.6 594.9,452.3 595.3,452.1 595.8,451.8 596.3,451.3 596.8,450.8 597.3,450.8 597.8,450.1 598.3,449.6 598.8,449.5 599.3,449.4 599.3,449.1 599.8,448.3 600.3,447.7 600.8,446.8 601.3,446.2 601.7,446.1 602.2,445.4 602.7,444.6 603.2,443.9 603.7,442.7 604.2,441.8 604.6,441.1 604.7,441.0 605.2,439.4 605.7,438.7 606.2,437.2 606.7,435.3 607.2,434.6 607.6,433.0 608.1,430.2 608.6,429.3 609.1,427.6 609.4,425.8 609.6,424.2 610.1,423.4 610.6,420.5 611.1,417.8 611.6,415.1 612.1,413.3 612.4,410.4 612.6,407.6 613.1,406.4 613.5,403.0 614.0,401.0 614.5,397.8 614.7,394.0 615.0,392.5 615.5,385.9 616.0,380.7 616.5,378.4 617.0,371.2 617.5,369.5 618.0,363.9 618.5,359.8 618.7,360.0 619.0,362.0 619.5,367.6 619.9,372.1 620.2,377.9 620.4,381.7 620.9,389.7 621.0,394.7 621.4,399.4 621.9,404.9 622.4,407.7 622.6,411.0 622.9,413.2 623.4,416.8 623.9,420.6 624.4,424.3 624.6,425.6 624.9,427.4 625.4,430.1 625.8,431.1 626.3,433.5 626.8,436.1 627.3,436.9 627.8,439.4 628.3,440.5 628.5,441.1 628.8,441.9 629.3,442.8 629.8,443.6 630.3,444.6 630.8,445.5 631.3,446.4 631.7,447.3 632.2,447.5 632.7,448.2 633.2,449.0 633.7,449.4 634.2,450.1 634.7,450.7 635.2,451.0 635.7,451.2 636.2,452.1 636.7,452.2 637.2,452.8 637.6,452.9 638.1,453.5 638.6,453.9 639.1,454.2 639.6,454.5 640.1,454.7 640.6,455.3 641.1,455.4 641.6,456.0 642.1,456.3 642.6,456.6 643.1,456.9 643.6,456.8 644.0,457.0 644.5,457.4 645.0,457.6 645.5,457.6 646.0,457.7 646.5,457.8 647.0,458.0 647.5,458.2 648.0,458.5 648.5,458.6 649.0,458.8 649.5,458.8 649.9,458.9 650.4,459.2 650.9,459.3 651.4,459.3 651.9,459.6 652.4,459.5 652.9,459.7 653.4,459.9 653.9,460.3 654.4,460.5 654.9,460.7 655.4,460.9 655.8,461.1 656.3,461.3 656.8,461.6 657.3,461.7 657.8,462.0 658.3,462.1 658.8,462.3 658.8,467.2" fill="#23417c"/>
<polygon points="580.1,467.2 580.1,460.7 580.6,460.3 581.1,460.0 581.3,459.9 581.6,459.7 582.1,459.5 582.6,459.4 583.1,459.1 583.5,459.0 584.0,458.7 584.5,458.5 585.0,458.3 585.5,458.1 586.0,457.7 586.5,457.5 587.0,457.4 587.5,457.0 588.0,456.9 588.1,456.8 588.5,456.6 589.0,456.4 589.4,456.2 589.9,455.8 590.4,455.4 590.9,455.3 591.4,454.9 591.9,454.7 592.4,454.5 592.9,454.0 593.4,453.8 593.9,453.4 594.4,453.1 594.9,452.8 595.3,452.5 595.8,452.1 596.3,451.7 596.8,451.3 597.3,451.1 597.8,450.6 598.3,450.3 598.8,450.0 599.3,449.6 599.8,449.2 600.3,448.6 600.8,448.0 601.3,447.2 601.7,446.4 602.2,445.8 602.7,445.1 603.2,444.3 603.7,443.7 604.2,442.8 604.7,442.0 605.1,441.5 605.2,440.9 605.7,439.4 606.2,438.2 606.7,436.9 607.2,435.4 607.6,433.7 608.1,431.9 608.6,430.4 609.1,428.8 609.6,427.1 609.7,425.2 610.1,424.1 610.6,421.5 611.1,419.2 611.6,416.5 612.1,413.8 612.5,411.4 612.6,409.7 613.1,407.5 613.5,404.4 614.0,401.1 614.5,397.6 614.8,395.5 615.0,392.2 615.5,387.0 616.0,381.6 616.5,375.5 616.7,372.9 617.0,367.6 617.5,360.4 618.0,353.2 618.5,342.1 618.7,340.1 619.0,347.5 619.5,357.1 619.9,367.0 620.2,372.5 620.4,380.4 620.9,391.4 621.0,395.9 621.4,399.7 621.9,404.7 622.4,407.8 622.5,411.2 622.9,413.9 623.4,418.4 623.9,422.3 624.4,425.6 624.9,427.9 625.4,430.3 625.8,432.7 626.3,434.8 626.8,436.3 627.3,437.9 627.8,439.7 628.3,441.1 628.3,441.9 628.8,442.6 629.3,443.5 629.8,444.4 630.3,445.3 630.8,445.8 631.3,446.5 631.7,447.6 632.2,448.0 632.7,448.7 632.8,449.0 633.2,449.4 633.7,449.8 634.2,450.5 634.7,450.9 635.2,451.2 635.7,451.5 636.2,452.2 636.7,452.6 637.2,452.8 637.6,453.4 638.1,453.7 638.6,454.0 639.1,454.3 639.6,454.6 640.1,455.1 640.6,455.3 641.1,455.6 641.6,455.9 642.1,456.2 642.6,456.4 642.9,456.7 643.1,456.9 643.6,457.1 644.0,457.1 644.5,457.3 645.0,457.6 645.5,457.7 646.0,457.8 646.5,458.0 647.0,458.1 647.5,458.3 648.0,458.5 648.5,458.7 649.0,458.7 649.5,459.0 649.9,459.1 650.4,459.1 650.9,459.3 651.4,459.5 651.9,459.6 652.4,459.7 652.9,459.9 653.4,460.1 653.9,460.3 654.4,460.6 654.9,460.8 655.4,461.1 655.8,461.3 656.3,461.5 656.8,461.8 657.3,461.9 657.8,462.1 658.3,462.3 658.8,462.5 658.8,467.2" fill="#dc9b52"/>
<polygon points="580.1,467.2 580.1,460.7 580.6,460.3 581.1,460.0 581.3,459.9 581.6,459.7 582.1,459.5 582.6,459.4 583.1,459.1 583.5,459.0 584.0,458.7 584.5,458.5 585.0,458.3 585.5,458.1 586.0,457.7 586.5,457.5 587.0,457.4 587.5,457.0 587.6,456.9 588.0,456.8 588.5,456.6 589.0,456.4 589.4,456.2 589.9,455.8 590.4,455.4 590.9,455.3 591.4,454.9 591.9,454.7 592.4,454.5 592.9,454.0 593.4,453.8 593.9,453.4 594.4,453.1 594.9,452.8 595.3,452.5 595.8,452.1 596.3,451.7 596.8,451.3 597.3,451.1 597.8,450.6 598.3,450.3 598.8,450.0 599.3,449.6 599.3,449.2 599.8,448.6 600.3,448.0 600.8,447.2 601.3,446.4 601.7,446.1 602.2,445.4 602.7,444.6 603.2,443.9 603.7,442.8 604.2,442.0 604.6,441.5 604.7,441.0 605.2,439.4 605.7,438.7 606.2,437.2 606.7,435.4 607.2,434.6 607.6,433.0 608.1,430.4 608.6,429.3 609.1,427.6 609.4,425.8 609.6,424.2 610.1,423.4 610.6,420.5 611.1,417.8 611.6,415.1 612.1,413.3 612.4,410.4 612.6,407.6 613.1,406.4 613.5,403.0 614.0,401.0 614.5,397.8 614.7,394.0 615.0,392.5 615.5,385.9 616.0,380.7 616.5,378.4 617.0,371.2 617.5,369.5 618.0,363.9 618.5,359.8 618.7,360.0 619.0,362.0 619.5,367.6 619.9,372.1 620.2,377.9 620.4,381.7 620.9,391.4 621.0,395.9 621.4,399.7 621.9,404.9 622.4,407.8 622.6,411.2 622.9,413.9 623.4,418.4 623.9,422.3 624.4,425.6 624.6,427.9 624.9,430.3 625.4,432.7 625.8,434.8 626.3,436.3 626.8,437.9 627.3,439.7 627.8,441.1 628.3,441.9 628.5,442.6 628.8,443.5 629.3,444.4 629.8,445.3 630.3,445.8 630.8,446.5 631.3,447.6 631.7,448.0 632.2,448.7 632.7,449.0 633.2,449.4 633.7,449.8 634.2,450.5 634.7,450.9 635.2,451.2 635.7,451.5 636.2,452.2 636.7,452.6 637.2,452.8 637.6,453.4 638.1,453.7 638.6,454.0 639.1,454.3 639.6,454.6 640.1,455.1 640.6,455.3 641.1,455.6 641.6,456.0 642.1,456.3 642.6,456.6 643.1,456.9 643.6,456.9 644.0,457.1 644.5,457.4 645.0,457.6 645.5,457.6 646.0,457.7 646.5,457.8 647.0,458.0 647.5,458.2 648.0,458.5 648.5,458.6 649.0,458.8 649.5,458.8 649.9,459.0 650.4,459.2 650.9,459.3 651.4,459.3 651.9,459.6 652.4,459.6 652.9,459.7 653.4,459.9 653.9,460.3 654.4,460.5 654.9,460.7 655.4,460.9 655.8,461.1 656.3,461.3 656.8,461.6 657.3,461.8 657.8,462.0 658.3,462.1 658.8,462.3 658.8,467.2" fill="#77591a"/>
<line x1="573.8" y1="467.2" x2="575.3" y2="467.2" stroke="#d4d4d4" stroke-width="0.7"/>
<text x="572.10" y="470.00" font-family="'Liberation Sans', sans-serif" font-size="7.9" fill="#111" text-anchor="end" textLength="15.3" lengthAdjust="spacingAndGlyphs">0.00</text>
<line x1="573.8" y1="443.3" x2="575.3" y2="443.3" stroke="#d4d4d4" stroke-width="0.7"/>
<text x="572.10" y="446.15" font-family="'Liberation Sans', sans-serif" font-size="7.9" fill="#111" text-anchor="end" textLength="15.3" lengthAdjust="spacingAndGlyphs">0.05</text>
<line x1="573.8" y1="419.5" x2="575.3" y2="419.5" stroke="#d4d4d4" stroke-width="0.7"/>
<text x="572.10" y="422.30" font-family="'Liberation Sans', sans-serif" font-size="7.9" fill="#111" text-anchor="end" textLength="15.3" lengthAdjust="spacingAndGlyphs">0.10</text>
<line x1="573.8" y1="395.6" x2="575.3" y2="395.6" stroke="#d4d4d4" stroke-width="0.7"/>
<text x="572.10" y="398.45" font-family="'Liberation Sans', sans-serif" font-size="7.9" fill="#111" text-anchor="end" textLength="15.3" lengthAdjust="spacingAndGlyphs">0.15</text>
<line x1="573.8" y1="371.8" x2="575.3" y2="371.8" stroke="#d4d4d4" stroke-width="0.7"/>
<text x="572.10" y="374.60" font-family="'Liberation Sans', sans-serif" font-size="7.9" fill="#111" text-anchor="end" textLength="15.3" lengthAdjust="spacingAndGlyphs">0.20</text>
<line x1="573.8" y1="347.9" x2="575.3" y2="347.9" stroke="#d4d4d4" stroke-width="0.7"/>
<text x="572.10" y="350.75" font-family="'Liberation Sans', sans-serif" font-size="7.9" fill="#111" text-anchor="end" textLength="15.3" lengthAdjust="spacingAndGlyphs">0.25</text>
<text x="577.80" y="476.40" font-family="'Liberation Sans', sans-serif" font-size="7.9" fill="#111" text-anchor="middle">-10</text>
<text x="599.70" y="476.40" font-family="'Liberation Sans', sans-serif" font-size="7.9" fill="#111" text-anchor="middle">-5</text>
<text x="620.30" y="476.40" font-family="'Liberation Sans', sans-serif" font-size="7.9" fill="#111" text-anchor="middle">0</text>
<text x="639.90" y="476.40" font-family="'Liberation Sans', sans-serif" font-size="7.9" fill="#111" text-anchor="middle">5</text>
<text x="658.20" y="476.40" font-family="'Liberation Sans', sans-serif" font-size="7.9" fill="#111" text-anchor="middle">10</text>
<text x="551.90" y="407.00" font-family="'Liberation Sans', sans-serif" font-size="8.8" fill="#111" text-anchor="middle" textLength="41.5" lengthAdjust="spacingAndGlyphs" transform="rotate(-90 551.90 407.00)">Probability</text>
<text x="568.30" y="484.20" font-family="'Liberation Sans', sans-serif" font-size="8.6" fill="#111" textLength="108.0" lengthAdjust="spacingAndGlyphs">Gaussian curvature H (nm<tspan font-size="5.6" dy="-3">-1</tspan><tspan dy="3">)</tspan></text>
<rect x="575.9" y="308.7" width="5.2" height="5.0" fill="#23417c"/>
<rect x="575.9" y="322.4" width="5.2" height="5.2" fill="#dc9b52"/>
<text x="585.70" y="315.30" font-family="'Liberation Sans', sans-serif" font-size="12" fill="#111" textLength="70.3" lengthAdjust="spacingAndGlyphs">1 min, point g</text>
<text x="585.70" y="329.30" font-family="'Liberation Sans', sans-serif" font-size="12" fill="#111" textLength="77.4" lengthAdjust="spacingAndGlyphs">22 min, point h</text>
<line x1="602.2" y1="339.0" x2="619.0" y2="339.0" stroke="#e09a4e" stroke-width="1.2" stroke-dasharray="3.1 1.0"/>
<line x1="601.0" y1="358.8" x2="618.5" y2="358.8" stroke="#23417c" stroke-width="1.2" stroke-dasharray="3.1 1.0"/>
<path d="M609.6 344.8H612.4V351.7H613.7L611.0 355.0L608.3 351.7H609.6Z" fill="#4db8ee"/>
</svg></body></html>
